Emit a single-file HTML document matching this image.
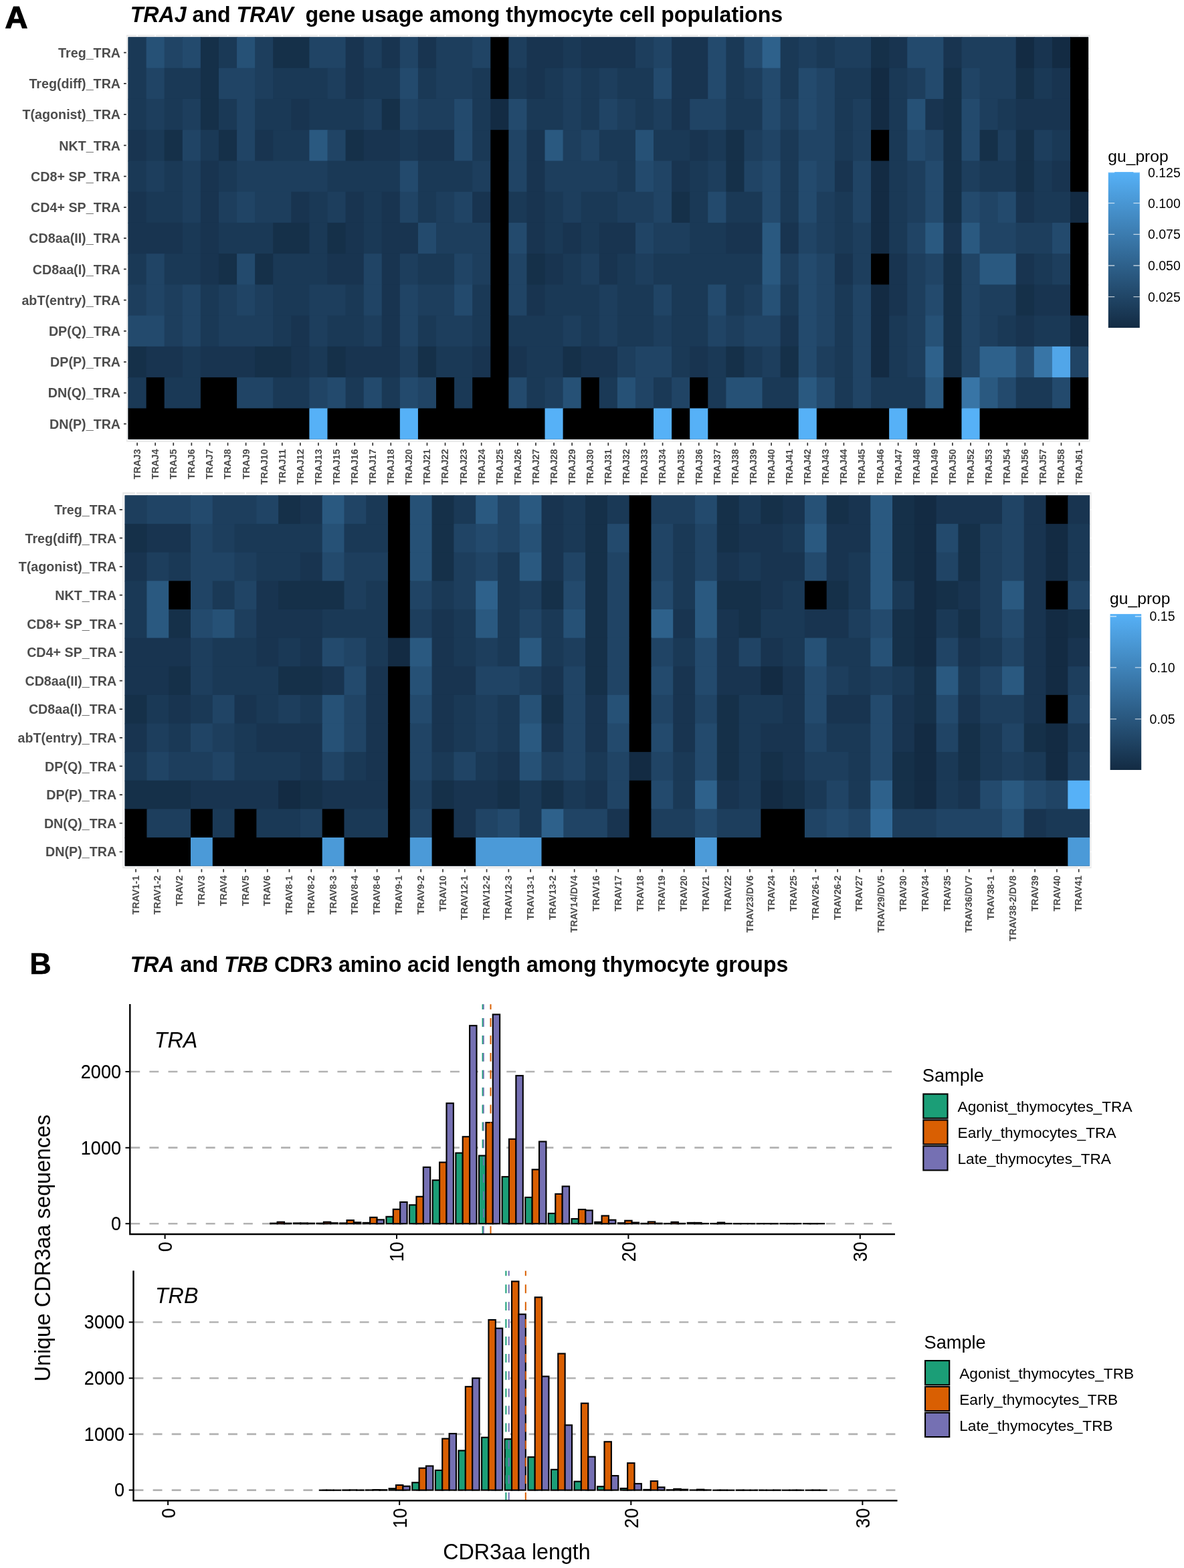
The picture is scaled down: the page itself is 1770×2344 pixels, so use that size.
<!DOCTYPE html>
<html lang="en"><head><meta charset="utf-8"><title>TRAJ and TRAV gene usage among thymocyte cell populations</title>
<style>html,body{margin:0;padding:0;background:#fff}body{width:1770px;height:2344px;overflow:hidden}svg{display:block}text{font-family:"Liberation Sans",sans-serif}.yl{font-weight:bold;font-size:19.7px;fill:#4d4d4d;text-anchor:end}.xl{font-weight:bold;font-size:15.4px;fill:#4d4d4d;text-anchor:end}.ti{font-weight:bold;font-size:32.8px;fill:#000}.lt{font-size:24.65px;fill:#000}.ll{font-size:19.5px;fill:#000}.tk{font-size:30.3px;fill:#000;stroke:#000;stroke-width:0.12px}.st{font-size:27.2px;fill:#000}.sl{font-size:22.7px;fill:#000}.ax{font-size:33.3px;fill:#000}</style></head><body>
<svg width="1770" height="2344" viewBox="0 0 1770 2344">
<rect width="1770" height="2344" fill="#ffffff"/>
<text x="7.4" y="41.7" style="font-weight:bold;font-size:47px;stroke:#000;stroke-width:1.2px">A</text>
<text class="ti" style="font-size:33.6px" transform="translate(194.75 33.3) scale(0.956 1)" xml:space="preserve"><tspan font-style="italic">TRAJ</tspan> and <tspan font-style="italic">TRAV</tspan>  gene usage among thymocyte cell populations</text>
<g>
<rect x="189" y="52.2" width="1440.6" height="608.4" fill="#e9e9e9"/>
<path d="M205.09 52.2V660.6M232.18 52.2V660.6M259.26 52.2V660.6M286.35 52.2V660.6M313.44 52.2V660.6M340.52 52.2V660.6M367.61 52.2V660.6M394.69 52.2V660.6M421.78 52.2V660.6M448.87 52.2V660.6M475.95 52.2V660.6M503.04 52.2V660.6M530.12 52.2V660.6M557.21 52.2V660.6M584.29 52.2V660.6M611.38 52.2V660.6M638.47 52.2V660.6M665.55 52.2V660.6M692.64 52.2V660.6M719.72 52.2V660.6M746.81 52.2V660.6M773.9 52.2V660.6M800.98 52.2V660.6M828.07 52.2V660.6M855.15 52.2V660.6M882.24 52.2V660.6M909.33 52.2V660.6M936.41 52.2V660.6M963.5 52.2V660.6M990.58 52.2V660.6M1017.67 52.2V660.6M1044.75 52.2V660.6M1071.84 52.2V660.6M1098.93 52.2V660.6M1126.01 52.2V660.6M1153.1 52.2V660.6M1180.18 52.2V660.6M1207.27 52.2V660.6M1234.36 52.2V660.6M1261.44 52.2V660.6M1288.53 52.2V660.6M1315.61 52.2V660.6M1342.7 52.2V660.6M1369.78 52.2V660.6M1396.87 52.2V660.6M1423.96 52.2V660.6M1451.04 52.2V660.6M1478.13 52.2V660.6M1505.21 52.2V660.6M1532.3 52.2V660.6M1559.39 52.2V660.6M1586.47 52.2V660.6M1613.56 52.2V660.6M189 78.57H1629.6M189 124.82H1629.6M189 171.07H1629.6M189 217.31H1629.6M189 263.56H1629.6M189 309.8H1629.6M189 356.05H1629.6M189 402.3H1629.6M189 448.54H1629.6M189 494.79H1629.6M189 541.03H1629.6M189 587.28H1629.6M189 633.53H1629.6" stroke="#ffffff" stroke-width="1.8" fill="none"/>
<rect x="190.4" y="54.2" width="1438" height="604.5" fill="#ffffff"/>
<rect x="191.55" y="55.45" width="1435.55" height="601.2" fill="#17324d"/>
<rect x="191.55" y="55.45" width="28.09" height="47.25" fill="#1a3956"/>
<rect x="218.64" y="55.45" width="28.09" height="47.25" fill="#265176"/>
<rect x="245.72" y="55.45" width="28.09" height="47.25" fill="#204465"/>
<rect x="272.81" y="55.45" width="28.09" height="47.25" fill="#234a6d"/>
<rect x="299.89" y="55.45" width="28.09" height="47.25" fill="#153049"/>
<rect x="326.98" y="55.45" width="28.09" height="47.25" fill="#1a3956"/>
<rect x="354.07" y="55.45" width="28.09" height="47.25" fill="#265176"/>
<rect x="381.15" y="55.45" width="28.09" height="47.25" fill="#1d3e5d"/>
<rect x="408.24" y="55.45" width="55.17" height="47.25" fill="#153049"/>
<rect x="462.41" y="55.45" width="55.17" height="47.25" fill="#204465"/>
<rect x="516.58" y="55.45" width="28.09" height="47.25" fill="#183450"/>
<rect x="543.67" y="55.45" width="28.09" height="47.25" fill="#1d3e5d"/>
<rect x="570.75" y="55.45" width="28.09" height="47.25" fill="#183450"/>
<rect x="597.84" y="55.45" width="28.09" height="47.25" fill="#204465"/>
<rect x="624.92" y="55.45" width="28.09" height="47.25" fill="#183450"/>
<rect x="652.01" y="55.45" width="55.17" height="47.25" fill="#1d3e5d"/>
<rect x="706.18" y="55.45" width="28.09" height="47.25" fill="#204465"/>
<rect x="733.27" y="55.45" width="28.09" height="47.25" fill="#000000"/>
<rect x="760.35" y="55.45" width="28.09" height="47.25" fill="#1d3e5d"/>
<rect x="787.44" y="55.45" width="55.17" height="47.25" fill="#183450"/>
<rect x="841.61" y="55.45" width="28.09" height="47.25" fill="#1a3956"/>
<rect x="868.7" y="55.45" width="82.26" height="47.25" fill="#183450"/>
<rect x="949.95" y="55.45" width="28.09" height="47.25" fill="#1d3e5d"/>
<rect x="977.04" y="55.45" width="28.09" height="47.25" fill="#204465"/>
<rect x="1004.13" y="55.45" width="55.17" height="47.25" fill="#183450"/>
<rect x="1058.3" y="55.45" width="28.09" height="47.25" fill="#234a6d"/>
<rect x="1085.38" y="55.45" width="28.09" height="47.25" fill="#1a3956"/>
<rect x="1112.47" y="55.45" width="28.09" height="47.25" fill="#234a6d"/>
<rect x="1139.55" y="55.45" width="28.09" height="47.25" fill="#2e618b"/>
<rect x="1166.64" y="55.45" width="28.09" height="47.25" fill="#1a3956"/>
<rect x="1193.73" y="55.45" width="28.09" height="47.25" fill="#1d3e5d"/>
<rect x="1220.81" y="55.45" width="28.09" height="47.25" fill="#1a3956"/>
<rect x="1247.9" y="55.45" width="55.17" height="47.25" fill="#1d3e5d"/>
<rect x="1302.07" y="55.45" width="28.09" height="47.25" fill="#153049"/>
<rect x="1329.16" y="55.45" width="28.09" height="47.25" fill="#183450"/>
<rect x="1356.24" y="55.45" width="55.17" height="47.25" fill="#234a6d"/>
<rect x="1410.41" y="55.45" width="28.09" height="47.25" fill="#183450"/>
<rect x="1437.5" y="55.45" width="82.26" height="47.25" fill="#1d3e5d"/>
<rect x="1518.76" y="55.45" width="28.09" height="47.25" fill="#132b43"/>
<rect x="1545.84" y="55.45" width="28.09" height="47.25" fill="#183450"/>
<rect x="1572.93" y="55.45" width="28.09" height="47.25" fill="#132b43"/>
<rect x="1600.01" y="55.45" width="27.09" height="47.25" fill="#000000"/>
<rect x="191.55" y="101.7" width="28.09" height="47.25" fill="#1a3956"/>
<rect x="218.64" y="101.7" width="28.09" height="47.25" fill="#204465"/>
<rect x="245.72" y="101.7" width="55.17" height="47.25" fill="#1a3956"/>
<rect x="299.89" y="101.7" width="28.09" height="47.25" fill="#153049"/>
<rect x="326.98" y="101.7" width="55.17" height="47.25" fill="#204465"/>
<rect x="381.15" y="101.7" width="28.09" height="47.25" fill="#1d3e5d"/>
<rect x="408.24" y="101.7" width="82.26" height="47.25" fill="#1a3956"/>
<rect x="489.49" y="101.7" width="28.09" height="47.25" fill="#1d3e5d"/>
<rect x="516.58" y="101.7" width="28.09" height="47.25" fill="#183450"/>
<rect x="543.67" y="101.7" width="55.17" height="47.25" fill="#1a3956"/>
<rect x="597.84" y="101.7" width="28.09" height="47.25" fill="#234a6d"/>
<rect x="624.92" y="101.7" width="28.09" height="47.25" fill="#1a3956"/>
<rect x="652.01" y="101.7" width="55.17" height="47.25" fill="#1d3e5d"/>
<rect x="706.18" y="101.7" width="28.09" height="47.25" fill="#1a3956"/>
<rect x="733.27" y="101.7" width="28.09" height="47.25" fill="#000000"/>
<rect x="760.35" y="101.7" width="28.09" height="47.25" fill="#1a3956"/>
<rect x="787.44" y="101.7" width="28.09" height="47.25" fill="#183450"/>
<rect x="814.52" y="101.7" width="28.09" height="47.25" fill="#1a3956"/>
<rect x="841.61" y="101.7" width="28.09" height="47.25" fill="#1d3e5d"/>
<rect x="868.7" y="101.7" width="28.09" height="47.25" fill="#1a3956"/>
<rect x="895.78" y="101.7" width="28.09" height="47.25" fill="#1d3e5d"/>
<rect x="922.87" y="101.7" width="55.17" height="47.25" fill="#1a3956"/>
<rect x="977.04" y="101.7" width="28.09" height="47.25" fill="#234a6d"/>
<rect x="1004.13" y="101.7" width="55.17" height="47.25" fill="#183450"/>
<rect x="1058.3" y="101.7" width="28.09" height="47.25" fill="#234a6d"/>
<rect x="1085.38" y="101.7" width="28.09" height="47.25" fill="#1a3956"/>
<rect x="1112.47" y="101.7" width="28.09" height="47.25" fill="#1d3e5d"/>
<rect x="1139.55" y="101.7" width="28.09" height="47.25" fill="#234a6d"/>
<rect x="1166.64" y="101.7" width="28.09" height="47.25" fill="#1a3956"/>
<rect x="1193.73" y="101.7" width="28.09" height="47.25" fill="#234a6d"/>
<rect x="1220.81" y="101.7" width="28.09" height="47.25" fill="#204465"/>
<rect x="1247.9" y="101.7" width="55.17" height="47.25" fill="#1a3956"/>
<rect x="1302.07" y="101.7" width="28.09" height="47.25" fill="#132b43"/>
<rect x="1329.16" y="101.7" width="28.09" height="47.25" fill="#1a3956"/>
<rect x="1356.24" y="101.7" width="28.09" height="47.25" fill="#1d3e5d"/>
<rect x="1383.33" y="101.7" width="28.09" height="47.25" fill="#234a6d"/>
<rect x="1410.41" y="101.7" width="28.09" height="47.25" fill="#153049"/>
<rect x="1437.5" y="101.7" width="28.09" height="47.25" fill="#204465"/>
<rect x="1464.58" y="101.7" width="55.17" height="47.25" fill="#1d3e5d"/>
<rect x="1518.76" y="101.7" width="28.09" height="47.25" fill="#153049"/>
<rect x="1545.84" y="101.7" width="28.09" height="47.25" fill="#1a3956"/>
<rect x="1572.93" y="101.7" width="28.09" height="47.25" fill="#183450"/>
<rect x="1600.01" y="101.7" width="27.09" height="47.25" fill="#000000"/>
<rect x="191.55" y="147.94" width="28.09" height="47.25" fill="#1a3956"/>
<rect x="218.64" y="147.94" width="28.09" height="47.25" fill="#1d3e5d"/>
<rect x="245.72" y="147.94" width="28.09" height="47.25" fill="#1a3956"/>
<rect x="272.81" y="147.94" width="28.09" height="47.25" fill="#1d3e5d"/>
<rect x="299.89" y="147.94" width="28.09" height="47.25" fill="#153049"/>
<rect x="326.98" y="147.94" width="28.09" height="47.25" fill="#1a3956"/>
<rect x="354.07" y="147.94" width="28.09" height="47.25" fill="#204465"/>
<rect x="381.15" y="147.94" width="55.17" height="47.25" fill="#1a3956"/>
<rect x="435.32" y="147.94" width="28.09" height="47.25" fill="#183450"/>
<rect x="462.41" y="147.94" width="82.26" height="47.25" fill="#1a3956"/>
<rect x="543.67" y="147.94" width="28.09" height="47.25" fill="#1d3e5d"/>
<rect x="570.75" y="147.94" width="28.09" height="47.25" fill="#153049"/>
<rect x="597.84" y="147.94" width="28.09" height="47.25" fill="#204465"/>
<rect x="624.92" y="147.94" width="55.17" height="47.25" fill="#1d3e5d"/>
<rect x="679.1" y="147.94" width="28.09" height="47.25" fill="#234a6d"/>
<rect x="706.18" y="147.94" width="28.09" height="47.25" fill="#1a3956"/>
<rect x="733.27" y="147.94" width="28.09" height="47.25" fill="#132b43"/>
<rect x="760.35" y="147.94" width="28.09" height="47.25" fill="#234a6d"/>
<rect x="787.44" y="147.94" width="55.17" height="47.25" fill="#1a3956"/>
<rect x="841.61" y="147.94" width="28.09" height="47.25" fill="#1d3e5d"/>
<rect x="868.7" y="147.94" width="28.09" height="47.25" fill="#1a3956"/>
<rect x="895.78" y="147.94" width="28.09" height="47.25" fill="#204465"/>
<rect x="922.87" y="147.94" width="28.09" height="47.25" fill="#1d3e5d"/>
<rect x="949.95" y="147.94" width="28.09" height="47.25" fill="#1a3956"/>
<rect x="977.04" y="147.94" width="28.09" height="47.25" fill="#1d3e5d"/>
<rect x="1004.13" y="147.94" width="28.09" height="47.25" fill="#183450"/>
<rect x="1031.21" y="147.94" width="55.17" height="47.25" fill="#204465"/>
<rect x="1085.38" y="147.94" width="55.17" height="47.25" fill="#1a3956"/>
<rect x="1139.55" y="147.94" width="28.09" height="47.25" fill="#234a6d"/>
<rect x="1166.64" y="147.94" width="28.09" height="47.25" fill="#1d3e5d"/>
<rect x="1193.73" y="147.94" width="28.09" height="47.25" fill="#234a6d"/>
<rect x="1220.81" y="147.94" width="28.09" height="47.25" fill="#204465"/>
<rect x="1247.9" y="147.94" width="28.09" height="47.25" fill="#1a3956"/>
<rect x="1274.98" y="147.94" width="28.09" height="47.25" fill="#1d3e5d"/>
<rect x="1302.07" y="147.94" width="28.09" height="47.25" fill="#132b43"/>
<rect x="1329.16" y="147.94" width="28.09" height="47.25" fill="#1a3956"/>
<rect x="1356.24" y="147.94" width="28.09" height="47.25" fill="#265176"/>
<rect x="1383.33" y="147.94" width="28.09" height="47.25" fill="#183450"/>
<rect x="1410.41" y="147.94" width="28.09" height="47.25" fill="#153049"/>
<rect x="1437.5" y="147.94" width="28.09" height="47.25" fill="#234a6d"/>
<rect x="1464.58" y="147.94" width="28.09" height="47.25" fill="#1d3e5d"/>
<rect x="1491.67" y="147.94" width="28.09" height="47.25" fill="#1a3956"/>
<rect x="1518.76" y="147.94" width="82.26" height="47.25" fill="#183450"/>
<rect x="1600.01" y="147.94" width="27.09" height="47.25" fill="#000000"/>
<rect x="191.55" y="194.19" width="28.09" height="47.25" fill="#183450"/>
<rect x="218.64" y="194.19" width="28.09" height="47.25" fill="#1a3956"/>
<rect x="245.72" y="194.19" width="28.09" height="47.25" fill="#153049"/>
<rect x="272.81" y="194.19" width="28.09" height="47.25" fill="#204465"/>
<rect x="299.89" y="194.19" width="28.09" height="47.25" fill="#1a3956"/>
<rect x="326.98" y="194.19" width="28.09" height="47.25" fill="#153049"/>
<rect x="354.07" y="194.19" width="28.09" height="47.25" fill="#204465"/>
<rect x="381.15" y="194.19" width="28.09" height="47.25" fill="#183450"/>
<rect x="408.24" y="194.19" width="55.17" height="47.25" fill="#1a3956"/>
<rect x="462.41" y="194.19" width="28.09" height="47.25" fill="#2a5980"/>
<rect x="489.49" y="194.19" width="28.09" height="47.25" fill="#204465"/>
<rect x="516.58" y="194.19" width="28.09" height="47.25" fill="#153049"/>
<rect x="543.67" y="194.19" width="55.17" height="47.25" fill="#183450"/>
<rect x="597.84" y="194.19" width="28.09" height="47.25" fill="#1a3956"/>
<rect x="624.92" y="194.19" width="55.17" height="47.25" fill="#183450"/>
<rect x="679.1" y="194.19" width="28.09" height="47.25" fill="#234a6d"/>
<rect x="706.18" y="194.19" width="28.09" height="47.25" fill="#1a3956"/>
<rect x="733.27" y="194.19" width="28.09" height="47.25" fill="#000000"/>
<rect x="760.35" y="194.19" width="28.09" height="47.25" fill="#204465"/>
<rect x="787.44" y="194.19" width="28.09" height="47.25" fill="#183450"/>
<rect x="814.52" y="194.19" width="28.09" height="47.25" fill="#2a5980"/>
<rect x="841.61" y="194.19" width="28.09" height="47.25" fill="#1d3e5d"/>
<rect x="868.7" y="194.19" width="28.09" height="47.25" fill="#204465"/>
<rect x="895.78" y="194.19" width="55.17" height="47.25" fill="#1a3956"/>
<rect x="949.95" y="194.19" width="28.09" height="47.25" fill="#265176"/>
<rect x="977.04" y="194.19" width="55.17" height="47.25" fill="#1a3956"/>
<rect x="1031.21" y="194.19" width="28.09" height="47.25" fill="#183450"/>
<rect x="1058.3" y="194.19" width="28.09" height="47.25" fill="#1a3956"/>
<rect x="1085.38" y="194.19" width="28.09" height="47.25" fill="#153049"/>
<rect x="1112.47" y="194.19" width="28.09" height="47.25" fill="#1d3e5d"/>
<rect x="1139.55" y="194.19" width="28.09" height="47.25" fill="#204465"/>
<rect x="1166.64" y="194.19" width="28.09" height="47.25" fill="#1a3956"/>
<rect x="1193.73" y="194.19" width="55.17" height="47.25" fill="#204465"/>
<rect x="1247.9" y="194.19" width="28.09" height="47.25" fill="#1a3956"/>
<rect x="1274.98" y="194.19" width="28.09" height="47.25" fill="#1d3e5d"/>
<rect x="1302.07" y="194.19" width="28.09" height="47.25" fill="#000000"/>
<rect x="1329.16" y="194.19" width="28.09" height="47.25" fill="#1a3956"/>
<rect x="1356.24" y="194.19" width="28.09" height="47.25" fill="#234a6d"/>
<rect x="1383.33" y="194.19" width="28.09" height="47.25" fill="#204465"/>
<rect x="1410.41" y="194.19" width="28.09" height="47.25" fill="#153049"/>
<rect x="1437.5" y="194.19" width="28.09" height="47.25" fill="#234a6d"/>
<rect x="1464.58" y="194.19" width="28.09" height="47.25" fill="#153049"/>
<rect x="1491.67" y="194.19" width="28.09" height="47.25" fill="#1d3e5d"/>
<rect x="1518.76" y="194.19" width="28.09" height="47.25" fill="#153049"/>
<rect x="1545.84" y="194.19" width="28.09" height="47.25" fill="#1d3e5d"/>
<rect x="1572.93" y="194.19" width="28.09" height="47.25" fill="#1a3956"/>
<rect x="1600.01" y="194.19" width="27.09" height="47.25" fill="#000000"/>
<rect x="191.55" y="240.43" width="28.09" height="47.25" fill="#1a3956"/>
<rect x="218.64" y="240.43" width="28.09" height="47.25" fill="#1d3e5d"/>
<rect x="245.72" y="240.43" width="28.09" height="47.25" fill="#1a3956"/>
<rect x="272.81" y="240.43" width="28.09" height="47.25" fill="#1d3e5d"/>
<rect x="299.89" y="240.43" width="28.09" height="47.25" fill="#183450"/>
<rect x="326.98" y="240.43" width="28.09" height="47.25" fill="#1a3956"/>
<rect x="354.07" y="240.43" width="136.43" height="47.25" fill="#1d3e5d"/>
<rect x="489.49" y="240.43" width="109.34" height="47.25" fill="#1a3956"/>
<rect x="597.84" y="240.43" width="28.09" height="47.25" fill="#234a6d"/>
<rect x="624.92" y="240.43" width="82.26" height="47.25" fill="#1a3956"/>
<rect x="706.18" y="240.43" width="28.09" height="47.25" fill="#1d3e5d"/>
<rect x="733.27" y="240.43" width="28.09" height="47.25" fill="#000000"/>
<rect x="760.35" y="240.43" width="28.09" height="47.25" fill="#204465"/>
<rect x="787.44" y="240.43" width="28.09" height="47.25" fill="#183450"/>
<rect x="814.52" y="240.43" width="109.34" height="47.25" fill="#1d3e5d"/>
<rect x="922.87" y="240.43" width="28.09" height="47.25" fill="#1a3956"/>
<rect x="949.95" y="240.43" width="28.09" height="47.25" fill="#234a6d"/>
<rect x="977.04" y="240.43" width="28.09" height="47.25" fill="#204465"/>
<rect x="1004.13" y="240.43" width="28.09" height="47.25" fill="#183450"/>
<rect x="1031.21" y="240.43" width="28.09" height="47.25" fill="#1a3956"/>
<rect x="1058.3" y="240.43" width="28.09" height="47.25" fill="#1d3e5d"/>
<rect x="1085.38" y="240.43" width="28.09" height="47.25" fill="#153049"/>
<rect x="1112.47" y="240.43" width="28.09" height="47.25" fill="#204465"/>
<rect x="1139.55" y="240.43" width="28.09" height="47.25" fill="#234a6d"/>
<rect x="1166.64" y="240.43" width="28.09" height="47.25" fill="#1a3956"/>
<rect x="1193.73" y="240.43" width="28.09" height="47.25" fill="#234a6d"/>
<rect x="1220.81" y="240.43" width="28.09" height="47.25" fill="#204465"/>
<rect x="1247.9" y="240.43" width="28.09" height="47.25" fill="#183450"/>
<rect x="1274.98" y="240.43" width="28.09" height="47.25" fill="#204465"/>
<rect x="1302.07" y="240.43" width="28.09" height="47.25" fill="#132b43"/>
<rect x="1329.16" y="240.43" width="28.09" height="47.25" fill="#1a3956"/>
<rect x="1356.24" y="240.43" width="28.09" height="47.25" fill="#1d3e5d"/>
<rect x="1383.33" y="240.43" width="28.09" height="47.25" fill="#234a6d"/>
<rect x="1410.41" y="240.43" width="28.09" height="47.25" fill="#153049"/>
<rect x="1437.5" y="240.43" width="28.09" height="47.25" fill="#1d3e5d"/>
<rect x="1464.58" y="240.43" width="55.17" height="47.25" fill="#1a3956"/>
<rect x="1518.76" y="240.43" width="28.09" height="47.25" fill="#153049"/>
<rect x="1545.84" y="240.43" width="28.09" height="47.25" fill="#1a3956"/>
<rect x="1572.93" y="240.43" width="28.09" height="47.25" fill="#183450"/>
<rect x="1600.01" y="240.43" width="27.09" height="47.25" fill="#000000"/>
<rect x="191.55" y="286.68" width="28.09" height="47.25" fill="#183450"/>
<rect x="218.64" y="286.68" width="55.17" height="47.25" fill="#1a3956"/>
<rect x="272.81" y="286.68" width="28.09" height="47.25" fill="#1d3e5d"/>
<rect x="299.89" y="286.68" width="28.09" height="47.25" fill="#183450"/>
<rect x="326.98" y="286.68" width="28.09" height="47.25" fill="#1d3e5d"/>
<rect x="354.07" y="286.68" width="28.09" height="47.25" fill="#204465"/>
<rect x="381.15" y="286.68" width="55.17" height="47.25" fill="#1d3e5d"/>
<rect x="435.32" y="286.68" width="28.09" height="47.25" fill="#183450"/>
<rect x="462.41" y="286.68" width="28.09" height="47.25" fill="#1a3956"/>
<rect x="489.49" y="286.68" width="28.09" height="47.25" fill="#1d3e5d"/>
<rect x="516.58" y="286.68" width="28.09" height="47.25" fill="#183450"/>
<rect x="543.67" y="286.68" width="28.09" height="47.25" fill="#1a3956"/>
<rect x="570.75" y="286.68" width="28.09" height="47.25" fill="#183450"/>
<rect x="597.84" y="286.68" width="28.09" height="47.25" fill="#204465"/>
<rect x="624.92" y="286.68" width="28.09" height="47.25" fill="#1a3956"/>
<rect x="652.01" y="286.68" width="28.09" height="47.25" fill="#1d3e5d"/>
<rect x="679.1" y="286.68" width="28.09" height="47.25" fill="#204465"/>
<rect x="706.18" y="286.68" width="28.09" height="47.25" fill="#183450"/>
<rect x="733.27" y="286.68" width="28.09" height="47.25" fill="#000000"/>
<rect x="760.35" y="286.68" width="28.09" height="47.25" fill="#1a3956"/>
<rect x="787.44" y="286.68" width="28.09" height="47.25" fill="#183450"/>
<rect x="814.52" y="286.68" width="28.09" height="47.25" fill="#1a3956"/>
<rect x="841.61" y="286.68" width="28.09" height="47.25" fill="#1d3e5d"/>
<rect x="868.7" y="286.68" width="55.17" height="47.25" fill="#1a3956"/>
<rect x="922.87" y="286.68" width="55.17" height="47.25" fill="#1d3e5d"/>
<rect x="977.04" y="286.68" width="28.09" height="47.25" fill="#204465"/>
<rect x="1004.13" y="286.68" width="28.09" height="47.25" fill="#153049"/>
<rect x="1031.21" y="286.68" width="28.09" height="47.25" fill="#1a3956"/>
<rect x="1058.3" y="286.68" width="28.09" height="47.25" fill="#234a6d"/>
<rect x="1085.38" y="286.68" width="55.17" height="47.25" fill="#1a3956"/>
<rect x="1139.55" y="286.68" width="28.09" height="47.25" fill="#234a6d"/>
<rect x="1166.64" y="286.68" width="28.09" height="47.25" fill="#1a3956"/>
<rect x="1193.73" y="286.68" width="28.09" height="47.25" fill="#234a6d"/>
<rect x="1220.81" y="286.68" width="28.09" height="47.25" fill="#1d3e5d"/>
<rect x="1247.9" y="286.68" width="28.09" height="47.25" fill="#1a3956"/>
<rect x="1274.98" y="286.68" width="28.09" height="47.25" fill="#204465"/>
<rect x="1302.07" y="286.68" width="28.09" height="47.25" fill="#132b43"/>
<rect x="1329.16" y="286.68" width="28.09" height="47.25" fill="#1a3956"/>
<rect x="1356.24" y="286.68" width="28.09" height="47.25" fill="#1d3e5d"/>
<rect x="1383.33" y="286.68" width="28.09" height="47.25" fill="#234a6d"/>
<rect x="1410.41" y="286.68" width="28.09" height="47.25" fill="#153049"/>
<rect x="1437.5" y="286.68" width="28.09" height="47.25" fill="#234a6d"/>
<rect x="1464.58" y="286.68" width="28.09" height="47.25" fill="#204465"/>
<rect x="1491.67" y="286.68" width="28.09" height="47.25" fill="#234a6d"/>
<rect x="1518.76" y="286.68" width="28.09" height="47.25" fill="#183450"/>
<rect x="1545.84" y="286.68" width="55.17" height="47.25" fill="#1a3956"/>
<rect x="1600.01" y="286.68" width="27.09" height="47.25" fill="#132b43"/>
<rect x="191.55" y="332.93" width="82.26" height="47.25" fill="#183450"/>
<rect x="272.81" y="332.93" width="28.09" height="47.25" fill="#1a3956"/>
<rect x="299.89" y="332.93" width="28.09" height="47.25" fill="#183450"/>
<rect x="326.98" y="332.93" width="82.26" height="47.25" fill="#1a3956"/>
<rect x="408.24" y="332.93" width="55.17" height="47.25" fill="#153049"/>
<rect x="462.41" y="332.93" width="28.09" height="47.25" fill="#1a3956"/>
<rect x="489.49" y="332.93" width="28.09" height="47.25" fill="#153049"/>
<rect x="516.58" y="332.93" width="28.09" height="47.25" fill="#183450"/>
<rect x="543.67" y="332.93" width="28.09" height="47.25" fill="#1a3956"/>
<rect x="570.75" y="332.93" width="55.17" height="47.25" fill="#183450"/>
<rect x="624.92" y="332.93" width="28.09" height="47.25" fill="#234a6d"/>
<rect x="652.01" y="332.93" width="82.26" height="47.25" fill="#1d3e5d"/>
<rect x="733.27" y="332.93" width="28.09" height="47.25" fill="#000000"/>
<rect x="760.35" y="332.93" width="28.09" height="47.25" fill="#234a6d"/>
<rect x="787.44" y="332.93" width="28.09" height="47.25" fill="#183450"/>
<rect x="814.52" y="332.93" width="28.09" height="47.25" fill="#1a3956"/>
<rect x="841.61" y="332.93" width="28.09" height="47.25" fill="#183450"/>
<rect x="868.7" y="332.93" width="28.09" height="47.25" fill="#1a3956"/>
<rect x="895.78" y="332.93" width="55.17" height="47.25" fill="#183450"/>
<rect x="949.95" y="332.93" width="28.09" height="47.25" fill="#204465"/>
<rect x="977.04" y="332.93" width="55.17" height="47.25" fill="#1d3e5d"/>
<rect x="1031.21" y="332.93" width="55.17" height="47.25" fill="#1a3956"/>
<rect x="1085.38" y="332.93" width="55.17" height="47.25" fill="#183450"/>
<rect x="1139.55" y="332.93" width="28.09" height="47.25" fill="#2a5980"/>
<rect x="1166.64" y="332.93" width="28.09" height="47.25" fill="#183450"/>
<rect x="1193.73" y="332.93" width="28.09" height="47.25" fill="#204465"/>
<rect x="1220.81" y="332.93" width="28.09" height="47.25" fill="#1d3e5d"/>
<rect x="1247.9" y="332.93" width="28.09" height="47.25" fill="#1a3956"/>
<rect x="1274.98" y="332.93" width="28.09" height="47.25" fill="#1d3e5d"/>
<rect x="1302.07" y="332.93" width="28.09" height="47.25" fill="#132b43"/>
<rect x="1329.16" y="332.93" width="28.09" height="47.25" fill="#1a3956"/>
<rect x="1356.24" y="332.93" width="28.09" height="47.25" fill="#204465"/>
<rect x="1383.33" y="332.93" width="28.09" height="47.25" fill="#2a5980"/>
<rect x="1410.41" y="332.93" width="28.09" height="47.25" fill="#183450"/>
<rect x="1437.5" y="332.93" width="28.09" height="47.25" fill="#2a5980"/>
<rect x="1464.58" y="332.93" width="55.17" height="47.25" fill="#204465"/>
<rect x="1518.76" y="332.93" width="55.17" height="47.25" fill="#1d3e5d"/>
<rect x="1572.93" y="332.93" width="28.09" height="47.25" fill="#234a6d"/>
<rect x="1600.01" y="332.93" width="27.09" height="47.25" fill="#000000"/>
<rect x="191.55" y="379.17" width="28.09" height="47.25" fill="#1a3956"/>
<rect x="218.64" y="379.17" width="28.09" height="47.25" fill="#204465"/>
<rect x="245.72" y="379.17" width="55.17" height="47.25" fill="#1a3956"/>
<rect x="299.89" y="379.17" width="28.09" height="47.25" fill="#183450"/>
<rect x="326.98" y="379.17" width="28.09" height="47.25" fill="#153049"/>
<rect x="354.07" y="379.17" width="28.09" height="47.25" fill="#234a6d"/>
<rect x="381.15" y="379.17" width="28.09" height="47.25" fill="#153049"/>
<rect x="408.24" y="379.17" width="82.26" height="47.25" fill="#1a3956"/>
<rect x="489.49" y="379.17" width="55.17" height="47.25" fill="#183450"/>
<rect x="543.67" y="379.17" width="28.09" height="47.25" fill="#204465"/>
<rect x="570.75" y="379.17" width="28.09" height="47.25" fill="#183450"/>
<rect x="597.84" y="379.17" width="28.09" height="47.25" fill="#1d3e5d"/>
<rect x="624.92" y="379.17" width="55.17" height="47.25" fill="#1a3956"/>
<rect x="679.1" y="379.17" width="28.09" height="47.25" fill="#204465"/>
<rect x="706.18" y="379.17" width="28.09" height="47.25" fill="#1d3e5d"/>
<rect x="733.27" y="379.17" width="28.09" height="47.25" fill="#000000"/>
<rect x="760.35" y="379.17" width="28.09" height="47.25" fill="#204465"/>
<rect x="787.44" y="379.17" width="28.09" height="47.25" fill="#153049"/>
<rect x="814.52" y="379.17" width="28.09" height="47.25" fill="#183450"/>
<rect x="841.61" y="379.17" width="28.09" height="47.25" fill="#1a3956"/>
<rect x="868.7" y="379.17" width="28.09" height="47.25" fill="#1d3e5d"/>
<rect x="895.78" y="379.17" width="28.09" height="47.25" fill="#183450"/>
<rect x="922.87" y="379.17" width="28.09" height="47.25" fill="#1a3956"/>
<rect x="949.95" y="379.17" width="28.09" height="47.25" fill="#1d3e5d"/>
<rect x="977.04" y="379.17" width="163.52" height="47.25" fill="#1a3956"/>
<rect x="1139.55" y="379.17" width="28.09" height="47.25" fill="#2a5980"/>
<rect x="1166.64" y="379.17" width="28.09" height="47.25" fill="#1d3e5d"/>
<rect x="1193.73" y="379.17" width="28.09" height="47.25" fill="#234a6d"/>
<rect x="1220.81" y="379.17" width="28.09" height="47.25" fill="#204465"/>
<rect x="1247.9" y="379.17" width="28.09" height="47.25" fill="#183450"/>
<rect x="1274.98" y="379.17" width="28.09" height="47.25" fill="#1d3e5d"/>
<rect x="1302.07" y="379.17" width="28.09" height="47.25" fill="#000000"/>
<rect x="1329.16" y="379.17" width="28.09" height="47.25" fill="#183450"/>
<rect x="1356.24" y="379.17" width="28.09" height="47.25" fill="#1d3e5d"/>
<rect x="1383.33" y="379.17" width="28.09" height="47.25" fill="#204465"/>
<rect x="1410.41" y="379.17" width="28.09" height="47.25" fill="#153049"/>
<rect x="1437.5" y="379.17" width="28.09" height="47.25" fill="#204465"/>
<rect x="1464.58" y="379.17" width="55.17" height="47.25" fill="#2a5980"/>
<rect x="1518.76" y="379.17" width="28.09" height="47.25" fill="#183450"/>
<rect x="1545.84" y="379.17" width="28.09" height="47.25" fill="#1a3956"/>
<rect x="1572.93" y="379.17" width="28.09" height="47.25" fill="#1d3e5d"/>
<rect x="1600.01" y="379.17" width="27.09" height="47.25" fill="#000000"/>
<rect x="191.55" y="425.42" width="28.09" height="47.25" fill="#1d3e5d"/>
<rect x="218.64" y="425.42" width="28.09" height="47.25" fill="#204465"/>
<rect x="245.72" y="425.42" width="28.09" height="47.25" fill="#1d3e5d"/>
<rect x="272.81" y="425.42" width="28.09" height="47.25" fill="#204465"/>
<rect x="299.89" y="425.42" width="28.09" height="47.25" fill="#1a3956"/>
<rect x="326.98" y="425.42" width="28.09" height="47.25" fill="#1d3e5d"/>
<rect x="354.07" y="425.42" width="28.09" height="47.25" fill="#204465"/>
<rect x="381.15" y="425.42" width="28.09" height="47.25" fill="#1d3e5d"/>
<rect x="408.24" y="425.42" width="55.17" height="47.25" fill="#1a3956"/>
<rect x="462.41" y="425.42" width="55.17" height="47.25" fill="#1d3e5d"/>
<rect x="516.58" y="425.42" width="28.09" height="47.25" fill="#1a3956"/>
<rect x="543.67" y="425.42" width="28.09" height="47.25" fill="#204465"/>
<rect x="570.75" y="425.42" width="28.09" height="47.25" fill="#183450"/>
<rect x="597.84" y="425.42" width="28.09" height="47.25" fill="#204465"/>
<rect x="624.92" y="425.42" width="55.17" height="47.25" fill="#1d3e5d"/>
<rect x="679.1" y="425.42" width="28.09" height="47.25" fill="#234a6d"/>
<rect x="706.18" y="425.42" width="28.09" height="47.25" fill="#1a3956"/>
<rect x="733.27" y="425.42" width="28.09" height="47.25" fill="#000000"/>
<rect x="760.35" y="425.42" width="28.09" height="47.25" fill="#204465"/>
<rect x="787.44" y="425.42" width="28.09" height="47.25" fill="#183450"/>
<rect x="814.52" y="425.42" width="82.26" height="47.25" fill="#1a3956"/>
<rect x="895.78" y="425.42" width="28.09" height="47.25" fill="#1d3e5d"/>
<rect x="922.87" y="425.42" width="55.17" height="47.25" fill="#1a3956"/>
<rect x="977.04" y="425.42" width="28.09" height="47.25" fill="#204465"/>
<rect x="1004.13" y="425.42" width="55.17" height="47.25" fill="#1a3956"/>
<rect x="1058.3" y="425.42" width="28.09" height="47.25" fill="#234a6d"/>
<rect x="1085.38" y="425.42" width="28.09" height="47.25" fill="#1a3956"/>
<rect x="1112.47" y="425.42" width="28.09" height="47.25" fill="#1d3e5d"/>
<rect x="1139.55" y="425.42" width="28.09" height="47.25" fill="#265176"/>
<rect x="1166.64" y="425.42" width="28.09" height="47.25" fill="#1a3956"/>
<rect x="1193.73" y="425.42" width="28.09" height="47.25" fill="#234a6d"/>
<rect x="1220.81" y="425.42" width="28.09" height="47.25" fill="#204465"/>
<rect x="1247.9" y="425.42" width="28.09" height="47.25" fill="#1a3956"/>
<rect x="1274.98" y="425.42" width="28.09" height="47.25" fill="#204465"/>
<rect x="1302.07" y="425.42" width="28.09" height="47.25" fill="#132b43"/>
<rect x="1329.16" y="425.42" width="28.09" height="47.25" fill="#183450"/>
<rect x="1356.24" y="425.42" width="28.09" height="47.25" fill="#1d3e5d"/>
<rect x="1383.33" y="425.42" width="28.09" height="47.25" fill="#234a6d"/>
<rect x="1410.41" y="425.42" width="28.09" height="47.25" fill="#153049"/>
<rect x="1437.5" y="425.42" width="28.09" height="47.25" fill="#204465"/>
<rect x="1464.58" y="425.42" width="55.17" height="47.25" fill="#1d3e5d"/>
<rect x="1518.76" y="425.42" width="28.09" height="47.25" fill="#153049"/>
<rect x="1545.84" y="425.42" width="55.17" height="47.25" fill="#183450"/>
<rect x="1600.01" y="425.42" width="27.09" height="47.25" fill="#000000"/>
<rect x="191.55" y="471.67" width="55.17" height="47.25" fill="#234a6d"/>
<rect x="245.72" y="471.67" width="28.09" height="47.25" fill="#1d3e5d"/>
<rect x="272.81" y="471.67" width="28.09" height="47.25" fill="#204465"/>
<rect x="299.89" y="471.67" width="28.09" height="47.25" fill="#1a3956"/>
<rect x="326.98" y="471.67" width="82.26" height="47.25" fill="#1d3e5d"/>
<rect x="408.24" y="471.67" width="28.09" height="47.25" fill="#1a3956"/>
<rect x="435.32" y="471.67" width="28.09" height="47.25" fill="#183450"/>
<rect x="462.41" y="471.67" width="28.09" height="47.25" fill="#1d3e5d"/>
<rect x="489.49" y="471.67" width="55.17" height="47.25" fill="#1a3956"/>
<rect x="543.67" y="471.67" width="28.09" height="47.25" fill="#1d3e5d"/>
<rect x="570.75" y="471.67" width="28.09" height="47.25" fill="#183450"/>
<rect x="597.84" y="471.67" width="28.09" height="47.25" fill="#204465"/>
<rect x="624.92" y="471.67" width="28.09" height="47.25" fill="#1a3956"/>
<rect x="652.01" y="471.67" width="55.17" height="47.25" fill="#1d3e5d"/>
<rect x="706.18" y="471.67" width="28.09" height="47.25" fill="#1a3956"/>
<rect x="733.27" y="471.67" width="28.09" height="47.25" fill="#000000"/>
<rect x="760.35" y="471.67" width="82.26" height="47.25" fill="#1a3956"/>
<rect x="841.61" y="471.67" width="28.09" height="47.25" fill="#1d3e5d"/>
<rect x="868.7" y="471.67" width="28.09" height="47.25" fill="#1a3956"/>
<rect x="895.78" y="471.67" width="28.09" height="47.25" fill="#1d3e5d"/>
<rect x="922.87" y="471.67" width="55.17" height="47.25" fill="#1a3956"/>
<rect x="977.04" y="471.67" width="28.09" height="47.25" fill="#1d3e5d"/>
<rect x="1004.13" y="471.67" width="55.17" height="47.25" fill="#1a3956"/>
<rect x="1058.3" y="471.67" width="28.09" height="47.25" fill="#204465"/>
<rect x="1085.38" y="471.67" width="28.09" height="47.25" fill="#1d3e5d"/>
<rect x="1112.47" y="471.67" width="55.17" height="47.25" fill="#204465"/>
<rect x="1166.64" y="471.67" width="28.09" height="47.25" fill="#183450"/>
<rect x="1193.73" y="471.67" width="28.09" height="47.25" fill="#234a6d"/>
<rect x="1220.81" y="471.67" width="28.09" height="47.25" fill="#204465"/>
<rect x="1247.9" y="471.67" width="28.09" height="47.25" fill="#1a3956"/>
<rect x="1274.98" y="471.67" width="28.09" height="47.25" fill="#204465"/>
<rect x="1302.07" y="471.67" width="28.09" height="47.25" fill="#132b43"/>
<rect x="1329.16" y="471.67" width="28.09" height="47.25" fill="#1a3956"/>
<rect x="1356.24" y="471.67" width="28.09" height="47.25" fill="#1d3e5d"/>
<rect x="1383.33" y="471.67" width="28.09" height="47.25" fill="#265176"/>
<rect x="1410.41" y="471.67" width="28.09" height="47.25" fill="#153049"/>
<rect x="1437.5" y="471.67" width="28.09" height="47.25" fill="#204465"/>
<rect x="1464.58" y="471.67" width="28.09" height="47.25" fill="#1d3e5d"/>
<rect x="1491.67" y="471.67" width="28.09" height="47.25" fill="#1a3956"/>
<rect x="1518.76" y="471.67" width="28.09" height="47.25" fill="#183450"/>
<rect x="1545.84" y="471.67" width="55.17" height="47.25" fill="#1a3956"/>
<rect x="1600.01" y="471.67" width="27.09" height="47.25" fill="#132b43"/>
<rect x="191.55" y="517.91" width="28.09" height="47.25" fill="#153049"/>
<rect x="218.64" y="517.91" width="55.17" height="47.25" fill="#183450"/>
<rect x="272.81" y="517.91" width="28.09" height="47.25" fill="#1a3956"/>
<rect x="299.89" y="517.91" width="82.26" height="47.25" fill="#183450"/>
<rect x="381.15" y="517.91" width="55.17" height="47.25" fill="#153049"/>
<rect x="435.32" y="517.91" width="28.09" height="47.25" fill="#183450"/>
<rect x="462.41" y="517.91" width="28.09" height="47.25" fill="#1a3956"/>
<rect x="489.49" y="517.91" width="28.09" height="47.25" fill="#153049"/>
<rect x="516.58" y="517.91" width="82.26" height="47.25" fill="#183450"/>
<rect x="597.84" y="517.91" width="28.09" height="47.25" fill="#1d3e5d"/>
<rect x="624.92" y="517.91" width="28.09" height="47.25" fill="#153049"/>
<rect x="652.01" y="517.91" width="55.17" height="47.25" fill="#1a3956"/>
<rect x="706.18" y="517.91" width="28.09" height="47.25" fill="#183450"/>
<rect x="733.27" y="517.91" width="28.09" height="47.25" fill="#000000"/>
<rect x="760.35" y="517.91" width="28.09" height="47.25" fill="#183450"/>
<rect x="787.44" y="517.91" width="55.17" height="47.25" fill="#1a3956"/>
<rect x="841.61" y="517.91" width="28.09" height="47.25" fill="#153049"/>
<rect x="868.7" y="517.91" width="55.17" height="47.25" fill="#183450"/>
<rect x="922.87" y="517.91" width="28.09" height="47.25" fill="#1d3e5d"/>
<rect x="949.95" y="517.91" width="55.17" height="47.25" fill="#204465"/>
<rect x="1004.13" y="517.91" width="28.09" height="47.25" fill="#1a3956"/>
<rect x="1031.21" y="517.91" width="28.09" height="47.25" fill="#183450"/>
<rect x="1058.3" y="517.91" width="28.09" height="47.25" fill="#1a3956"/>
<rect x="1085.38" y="517.91" width="28.09" height="47.25" fill="#153049"/>
<rect x="1112.47" y="517.91" width="28.09" height="47.25" fill="#1a3956"/>
<rect x="1139.55" y="517.91" width="28.09" height="47.25" fill="#1d3e5d"/>
<rect x="1166.64" y="517.91" width="28.09" height="47.25" fill="#153049"/>
<rect x="1193.73" y="517.91" width="28.09" height="47.25" fill="#234a6d"/>
<rect x="1220.81" y="517.91" width="28.09" height="47.25" fill="#1d3e5d"/>
<rect x="1247.9" y="517.91" width="28.09" height="47.25" fill="#1a3956"/>
<rect x="1274.98" y="517.91" width="28.09" height="47.25" fill="#204465"/>
<rect x="1302.07" y="517.91" width="28.09" height="47.25" fill="#132b43"/>
<rect x="1329.16" y="517.91" width="28.09" height="47.25" fill="#1a3956"/>
<rect x="1356.24" y="517.91" width="28.09" height="47.25" fill="#1d3e5d"/>
<rect x="1383.33" y="517.91" width="28.09" height="47.25" fill="#2e618b"/>
<rect x="1410.41" y="517.91" width="28.09" height="47.25" fill="#153049"/>
<rect x="1437.5" y="517.91" width="28.09" height="47.25" fill="#204465"/>
<rect x="1464.58" y="517.91" width="55.17" height="47.25" fill="#2e618b"/>
<rect x="1518.76" y="517.91" width="28.09" height="47.25" fill="#234a6d"/>
<rect x="1545.84" y="517.91" width="28.09" height="47.25" fill="#3875a6"/>
<rect x="1572.93" y="517.91" width="28.09" height="47.25" fill="#51a6e9"/>
<rect x="1600.01" y="517.91" width="27.09" height="47.25" fill="#204465"/>
<rect x="191.55" y="564.16" width="28.09" height="47.25" fill="#1a3956"/>
<rect x="218.64" y="564.16" width="28.09" height="47.25" fill="#000000"/>
<rect x="245.72" y="564.16" width="55.17" height="47.25" fill="#1a3956"/>
<rect x="299.89" y="564.16" width="55.17" height="47.25" fill="#000000"/>
<rect x="354.07" y="564.16" width="55.17" height="47.25" fill="#204465"/>
<rect x="408.24" y="564.16" width="55.17" height="47.25" fill="#1a3956"/>
<rect x="462.41" y="564.16" width="28.09" height="47.25" fill="#204465"/>
<rect x="489.49" y="564.16" width="28.09" height="47.25" fill="#234a6d"/>
<rect x="516.58" y="564.16" width="28.09" height="47.25" fill="#1a3956"/>
<rect x="543.67" y="564.16" width="28.09" height="47.25" fill="#234a6d"/>
<rect x="570.75" y="564.16" width="28.09" height="47.25" fill="#1a3956"/>
<rect x="597.84" y="564.16" width="28.09" height="47.25" fill="#234a6d"/>
<rect x="624.92" y="564.16" width="28.09" height="47.25" fill="#204465"/>
<rect x="652.01" y="564.16" width="28.09" height="47.25" fill="#000000"/>
<rect x="679.1" y="564.16" width="28.09" height="47.25" fill="#1a3956"/>
<rect x="706.18" y="564.16" width="55.17" height="47.25" fill="#000000"/>
<rect x="760.35" y="564.16" width="28.09" height="47.25" fill="#234a6d"/>
<rect x="787.44" y="564.16" width="28.09" height="47.25" fill="#1a3956"/>
<rect x="814.52" y="564.16" width="28.09" height="47.25" fill="#1d3e5d"/>
<rect x="841.61" y="564.16" width="28.09" height="47.25" fill="#265176"/>
<rect x="868.7" y="564.16" width="28.09" height="47.25" fill="#000000"/>
<rect x="895.78" y="564.16" width="28.09" height="47.25" fill="#1a3956"/>
<rect x="922.87" y="564.16" width="28.09" height="47.25" fill="#265176"/>
<rect x="949.95" y="564.16" width="28.09" height="47.25" fill="#204465"/>
<rect x="977.04" y="564.16" width="28.09" height="47.25" fill="#1a3956"/>
<rect x="1004.13" y="564.16" width="28.09" height="47.25" fill="#204465"/>
<rect x="1031.21" y="564.16" width="28.09" height="47.25" fill="#000000"/>
<rect x="1058.3" y="564.16" width="28.09" height="47.25" fill="#1a3956"/>
<rect x="1085.38" y="564.16" width="55.17" height="47.25" fill="#265176"/>
<rect x="1139.55" y="564.16" width="55.17" height="47.25" fill="#1a3956"/>
<rect x="1193.73" y="564.16" width="28.09" height="47.25" fill="#2a5980"/>
<rect x="1220.81" y="564.16" width="28.09" height="47.25" fill="#234a6d"/>
<rect x="1247.9" y="564.16" width="28.09" height="47.25" fill="#1a3956"/>
<rect x="1274.98" y="564.16" width="28.09" height="47.25" fill="#204465"/>
<rect x="1302.07" y="564.16" width="82.26" height="47.25" fill="#1a3956"/>
<rect x="1383.33" y="564.16" width="28.09" height="47.25" fill="#2a5980"/>
<rect x="1410.41" y="564.16" width="28.09" height="47.25" fill="#000000"/>
<rect x="1437.5" y="564.16" width="28.09" height="47.25" fill="#3875a6"/>
<rect x="1464.58" y="564.16" width="28.09" height="47.25" fill="#2a5980"/>
<rect x="1491.67" y="564.16" width="28.09" height="47.25" fill="#234a6d"/>
<rect x="1518.76" y="564.16" width="55.17" height="47.25" fill="#1a3956"/>
<rect x="1572.93" y="564.16" width="28.09" height="47.25" fill="#234a6d"/>
<rect x="1600.01" y="564.16" width="27.09" height="47.25" fill="#000000"/>
<rect x="191.55" y="610.4" width="271.86" height="46.25" fill="#000000"/>
<rect x="462.41" y="610.4" width="28.09" height="46.25" fill="#56b1f7"/>
<rect x="489.49" y="610.4" width="109.34" height="46.25" fill="#000000"/>
<rect x="597.84" y="610.4" width="28.09" height="46.25" fill="#56b1f7"/>
<rect x="624.92" y="610.4" width="190.6" height="46.25" fill="#000000"/>
<rect x="814.52" y="610.4" width="28.09" height="46.25" fill="#56b1f7"/>
<rect x="841.61" y="610.4" width="136.43" height="46.25" fill="#000000"/>
<rect x="977.04" y="610.4" width="28.09" height="46.25" fill="#56b1f7"/>
<rect x="1004.13" y="610.4" width="28.09" height="46.25" fill="#000000"/>
<rect x="1031.21" y="610.4" width="28.09" height="46.25" fill="#56b1f7"/>
<rect x="1058.3" y="610.4" width="136.43" height="46.25" fill="#000000"/>
<rect x="1193.73" y="610.4" width="28.09" height="46.25" fill="#56b1f7"/>
<rect x="1220.81" y="610.4" width="109.34" height="46.25" fill="#000000"/>
<rect x="1329.16" y="610.4" width="28.09" height="46.25" fill="#56b1f7"/>
<rect x="1356.24" y="610.4" width="82.26" height="46.25" fill="#000000"/>
<rect x="1437.5" y="610.4" width="28.09" height="46.25" fill="#56b1f7"/>
<rect x="1464.58" y="610.4" width="162.52" height="46.25" fill="#000000"/>
<text class="yl" x="180.1" y="85.77">Treg_TRA</text>
<text class="yl" x="180.1" y="132.02">Treg(diff)_TRA</text>
<text class="yl" x="180.1" y="178.27">T(agonist)_TRA</text>
<text class="yl" x="180.1" y="224.51">NKT_TRA</text>
<text class="yl" x="180.1" y="270.76">CD8+ SP_TRA</text>
<text class="yl" x="180.1" y="317">CD4+ SP_TRA</text>
<text class="yl" x="180.1" y="363.25">CD8aa(II)_TRA</text>
<text class="yl" x="180.1" y="409.5">CD8aa(I)_TRA</text>
<text class="yl" x="180.1" y="455.74">abT(entry)_TRA</text>
<text class="yl" x="180.1" y="501.99">DP(Q)_TRA</text>
<text class="yl" x="180.1" y="548.23">DP(P)_TRA</text>
<text class="yl" x="180.1" y="594.48">DN(Q)_TRA</text>
<text class="yl" x="180.1" y="640.73">DN(P)_TRA</text>
<text class="xl" transform="translate(209.99 671.2) rotate(-90) scale(0.93 1)">TRAJ3</text>
<text class="xl" transform="translate(237.08 671.2) rotate(-90) scale(0.93 1)">TRAJ4</text>
<text class="xl" transform="translate(264.16 671.2) rotate(-90) scale(0.93 1)">TRAJ5</text>
<text class="xl" transform="translate(291.25 671.2) rotate(-90) scale(0.93 1)">TRAJ6</text>
<text class="xl" transform="translate(318.34 671.2) rotate(-90) scale(0.93 1)">TRAJ7</text>
<text class="xl" transform="translate(345.42 671.2) rotate(-90) scale(0.93 1)">TRAJ8</text>
<text class="xl" transform="translate(372.51 671.2) rotate(-90) scale(0.93 1)">TRAJ9</text>
<text class="xl" transform="translate(399.59 671.2) rotate(-90) scale(0.93 1)">TRAJ10</text>
<text class="xl" transform="translate(426.68 671.2) rotate(-90) scale(0.93 1)">TRAJ11</text>
<text class="xl" transform="translate(453.77 671.2) rotate(-90) scale(0.93 1)">TRAJ12</text>
<text class="xl" transform="translate(480.85 671.2) rotate(-90) scale(0.93 1)">TRAJ13</text>
<text class="xl" transform="translate(507.94 671.2) rotate(-90) scale(0.93 1)">TRAJ15</text>
<text class="xl" transform="translate(535.02 671.2) rotate(-90) scale(0.93 1)">TRAJ16</text>
<text class="xl" transform="translate(562.11 671.2) rotate(-90) scale(0.93 1)">TRAJ17</text>
<text class="xl" transform="translate(589.19 671.2) rotate(-90) scale(0.93 1)">TRAJ18</text>
<text class="xl" transform="translate(616.28 671.2) rotate(-90) scale(0.93 1)">TRAJ20</text>
<text class="xl" transform="translate(643.37 671.2) rotate(-90) scale(0.93 1)">TRAJ21</text>
<text class="xl" transform="translate(670.45 671.2) rotate(-90) scale(0.93 1)">TRAJ22</text>
<text class="xl" transform="translate(697.54 671.2) rotate(-90) scale(0.93 1)">TRAJ23</text>
<text class="xl" transform="translate(724.62 671.2) rotate(-90) scale(0.93 1)">TRAJ24</text>
<text class="xl" transform="translate(751.71 671.2) rotate(-90) scale(0.93 1)">TRAJ25</text>
<text class="xl" transform="translate(778.8 671.2) rotate(-90) scale(0.93 1)">TRAJ26</text>
<text class="xl" transform="translate(805.88 671.2) rotate(-90) scale(0.93 1)">TRAJ27</text>
<text class="xl" transform="translate(832.97 671.2) rotate(-90) scale(0.93 1)">TRAJ28</text>
<text class="xl" transform="translate(860.05 671.2) rotate(-90) scale(0.93 1)">TRAJ29</text>
<text class="xl" transform="translate(887.14 671.2) rotate(-90) scale(0.93 1)">TRAJ30</text>
<text class="xl" transform="translate(914.23 671.2) rotate(-90) scale(0.93 1)">TRAJ31</text>
<text class="xl" transform="translate(941.31 671.2) rotate(-90) scale(0.93 1)">TRAJ32</text>
<text class="xl" transform="translate(968.4 671.2) rotate(-90) scale(0.93 1)">TRAJ33</text>
<text class="xl" transform="translate(995.48 671.2) rotate(-90) scale(0.93 1)">TRAJ34</text>
<text class="xl" transform="translate(1022.57 671.2) rotate(-90) scale(0.93 1)">TRAJ35</text>
<text class="xl" transform="translate(1049.65 671.2) rotate(-90) scale(0.93 1)">TRAJ36</text>
<text class="xl" transform="translate(1076.74 671.2) rotate(-90) scale(0.93 1)">TRAJ37</text>
<text class="xl" transform="translate(1103.83 671.2) rotate(-90) scale(0.93 1)">TRAJ38</text>
<text class="xl" transform="translate(1130.91 671.2) rotate(-90) scale(0.93 1)">TRAJ39</text>
<text class="xl" transform="translate(1158 671.2) rotate(-90) scale(0.93 1)">TRAJ40</text>
<text class="xl" transform="translate(1185.08 671.2) rotate(-90) scale(0.93 1)">TRAJ41</text>
<text class="xl" transform="translate(1212.17 671.2) rotate(-90) scale(0.93 1)">TRAJ42</text>
<text class="xl" transform="translate(1239.26 671.2) rotate(-90) scale(0.93 1)">TRAJ43</text>
<text class="xl" transform="translate(1266.34 671.2) rotate(-90) scale(0.93 1)">TRAJ44</text>
<text class="xl" transform="translate(1293.43 671.2) rotate(-90) scale(0.93 1)">TRAJ45</text>
<text class="xl" transform="translate(1320.51 671.2) rotate(-90) scale(0.93 1)">TRAJ46</text>
<text class="xl" transform="translate(1347.6 671.2) rotate(-90) scale(0.93 1)">TRAJ47</text>
<text class="xl" transform="translate(1374.68 671.2) rotate(-90) scale(0.93 1)">TRAJ48</text>
<text class="xl" transform="translate(1401.77 671.2) rotate(-90) scale(0.93 1)">TRAJ49</text>
<text class="xl" transform="translate(1428.86 671.2) rotate(-90) scale(0.93 1)">TRAJ50</text>
<text class="xl" transform="translate(1455.94 671.2) rotate(-90) scale(0.93 1)">TRAJ52</text>
<text class="xl" transform="translate(1483.03 671.2) rotate(-90) scale(0.93 1)">TRAJ53</text>
<text class="xl" transform="translate(1510.11 671.2) rotate(-90) scale(0.93 1)">TRAJ54</text>
<text class="xl" transform="translate(1537.2 671.2) rotate(-90) scale(0.93 1)">TRAJ56</text>
<text class="xl" transform="translate(1564.29 671.2) rotate(-90) scale(0.93 1)">TRAJ57</text>
<text class="xl" transform="translate(1591.37 671.2) rotate(-90) scale(0.93 1)">TRAJ58</text>
<text class="xl" transform="translate(1618.46 671.2) rotate(-90) scale(0.93 1)">TRAJ61</text>
<path d="M185 78.57H188.8M185 124.82H188.8M185 171.07H188.8M185 217.31H188.8M185 263.56H188.8M185 309.8H188.8M185 356.05H188.8M185 402.3H188.8M185 448.54H188.8M185 494.79H188.8M185 541.03H188.8M185 587.28H188.8M185 633.53H188.8M205.09 661.8V666.3M232.18 661.8V666.3M259.26 661.8V666.3M286.35 661.8V666.3M313.44 661.8V666.3M340.52 661.8V666.3M367.61 661.8V666.3M394.69 661.8V666.3M421.78 661.8V666.3M448.87 661.8V666.3M475.95 661.8V666.3M503.04 661.8V666.3M530.12 661.8V666.3M557.21 661.8V666.3M584.29 661.8V666.3M611.38 661.8V666.3M638.47 661.8V666.3M665.55 661.8V666.3M692.64 661.8V666.3M719.72 661.8V666.3M746.81 661.8V666.3M773.9 661.8V666.3M800.98 661.8V666.3M828.07 661.8V666.3M855.15 661.8V666.3M882.24 661.8V666.3M909.33 661.8V666.3M936.41 661.8V666.3M963.5 661.8V666.3M990.58 661.8V666.3M1017.67 661.8V666.3M1044.75 661.8V666.3M1071.84 661.8V666.3M1098.93 661.8V666.3M1126.01 661.8V666.3M1153.1 661.8V666.3M1180.18 661.8V666.3M1207.27 661.8V666.3M1234.36 661.8V666.3M1261.44 661.8V666.3M1288.53 661.8V666.3M1315.61 661.8V666.3M1342.7 661.8V666.3M1369.78 661.8V666.3M1396.87 661.8V666.3M1423.96 661.8V666.3M1451.04 661.8V666.3M1478.13 661.8V666.3M1505.21 661.8V666.3M1532.3 661.8V666.3M1559.39 661.8V666.3M1586.47 661.8V666.3M1613.56 661.8V666.3" stroke="#333333" stroke-width="1.7" fill="none"/>
</g>
<g>
<rect x="183.2" y="736" width="1448.4" height="562.2" fill="#e9e9e9"/>
<path d="M203.04 736V1298.2M235.82 736V1298.2M268.61 736V1298.2M301.39 736V1298.2M334.17 736V1298.2M366.96 736V1298.2M399.74 736V1298.2M432.52 736V1298.2M465.31 736V1298.2M498.09 736V1298.2M530.87 736V1298.2M563.65 736V1298.2M596.44 736V1298.2M629.22 736V1298.2M662 736V1298.2M694.79 736V1298.2M727.57 736V1298.2M760.35 736V1298.2M793.13 736V1298.2M825.92 736V1298.2M858.7 736V1298.2M891.48 736V1298.2M924.27 736V1298.2M957.05 736V1298.2M989.83 736V1298.2M1022.62 736V1298.2M1055.4 736V1298.2M1088.18 736V1298.2M1120.96 736V1298.2M1153.75 736V1298.2M1186.53 736V1298.2M1219.31 736V1298.2M1252.1 736V1298.2M1284.88 736V1298.2M1317.66 736V1298.2M1350.44 736V1298.2M1383.23 736V1298.2M1416.01 736V1298.2M1448.79 736V1298.2M1481.58 736V1298.2M1514.36 736V1298.2M1547.14 736V1298.2M1579.93 736V1298.2M1612.71 736V1298.2M183.2 761.81H1631.6M183.2 804.43H1631.6M183.2 847.06H1631.6M183.2 889.68H1631.6M183.2 932.3H1631.6M183.2 974.93H1631.6M183.2 1017.55H1631.6M183.2 1060.17H1631.6M183.2 1102.8H1631.6M183.2 1145.42H1631.6M183.2 1188.04H1631.6M183.2 1230.67H1631.6M183.2 1273.29H1631.6" stroke="#ffffff" stroke-width="1.8" fill="none"/>
<rect x="184.8" y="738.4" width="1445.6" height="557.6" fill="#ffffff"/>
<rect x="186.65" y="740.5" width="1442.45" height="554.1" fill="#17324d"/>
<rect x="186.65" y="740.5" width="33.78" height="43.62" fill="#1d3e5d"/>
<rect x="219.43" y="740.5" width="66.57" height="43.62" fill="#204465"/>
<rect x="285" y="740.5" width="33.78" height="43.62" fill="#234a6d"/>
<rect x="317.78" y="740.5" width="66.57" height="43.62" fill="#1d3e5d"/>
<rect x="383.35" y="740.5" width="33.78" height="43.62" fill="#204465"/>
<rect x="416.13" y="740.5" width="33.78" height="43.62" fill="#153049"/>
<rect x="448.91" y="740.5" width="33.78" height="43.62" fill="#183450"/>
<rect x="481.7" y="740.5" width="33.78" height="43.62" fill="#2a5980"/>
<rect x="514.48" y="740.5" width="33.78" height="43.62" fill="#204465"/>
<rect x="547.26" y="740.5" width="33.78" height="43.62" fill="#1a3956"/>
<rect x="580.05" y="740.5" width="33.78" height="43.62" fill="#000000"/>
<rect x="612.83" y="740.5" width="33.78" height="43.62" fill="#265176"/>
<rect x="645.61" y="740.5" width="33.78" height="43.62" fill="#153049"/>
<rect x="678.39" y="740.5" width="33.78" height="43.62" fill="#1a3956"/>
<rect x="711.18" y="740.5" width="33.78" height="43.62" fill="#2a5980"/>
<rect x="743.96" y="740.5" width="33.78" height="43.62" fill="#204465"/>
<rect x="776.74" y="740.5" width="33.78" height="43.62" fill="#2a5980"/>
<rect x="809.53" y="740.5" width="33.78" height="43.62" fill="#183450"/>
<rect x="842.31" y="740.5" width="33.78" height="43.62" fill="#1a3956"/>
<rect x="875.09" y="740.5" width="33.78" height="43.62" fill="#153049"/>
<rect x="907.87" y="740.5" width="33.78" height="43.62" fill="#1a3956"/>
<rect x="940.66" y="740.5" width="33.78" height="43.62" fill="#000000"/>
<rect x="973.44" y="740.5" width="66.57" height="43.62" fill="#1d3e5d"/>
<rect x="1039.01" y="740.5" width="33.78" height="43.62" fill="#234a6d"/>
<rect x="1071.79" y="740.5" width="33.78" height="43.62" fill="#153049"/>
<rect x="1104.57" y="740.5" width="33.78" height="43.62" fill="#1a3956"/>
<rect x="1137.36" y="740.5" width="33.78" height="43.62" fill="#153049"/>
<rect x="1170.14" y="740.5" width="33.78" height="43.62" fill="#183450"/>
<rect x="1202.92" y="740.5" width="33.78" height="43.62" fill="#265176"/>
<rect x="1235.7" y="740.5" width="33.78" height="43.62" fill="#153049"/>
<rect x="1268.49" y="740.5" width="33.78" height="43.62" fill="#183450"/>
<rect x="1301.27" y="740.5" width="33.78" height="43.62" fill="#2a5980"/>
<rect x="1334.05" y="740.5" width="33.78" height="43.62" fill="#153049"/>
<rect x="1366.84" y="740.5" width="33.78" height="43.62" fill="#132b43"/>
<rect x="1399.62" y="740.5" width="99.35" height="43.62" fill="#183450"/>
<rect x="1497.97" y="740.5" width="33.78" height="43.62" fill="#204465"/>
<rect x="1530.75" y="740.5" width="33.78" height="43.62" fill="#183450"/>
<rect x="1563.53" y="740.5" width="33.78" height="43.62" fill="#000000"/>
<rect x="1596.32" y="740.5" width="32.78" height="43.62" fill="#183450"/>
<rect x="186.65" y="783.12" width="33.78" height="43.62" fill="#153049"/>
<rect x="219.43" y="783.12" width="66.57" height="43.62" fill="#183450"/>
<rect x="285" y="783.12" width="33.78" height="43.62" fill="#204465"/>
<rect x="317.78" y="783.12" width="33.78" height="43.62" fill="#1d3e5d"/>
<rect x="350.56" y="783.12" width="132.13" height="43.62" fill="#1a3956"/>
<rect x="481.7" y="783.12" width="33.78" height="43.62" fill="#265176"/>
<rect x="514.48" y="783.12" width="66.57" height="43.62" fill="#1a3956"/>
<rect x="580.05" y="783.12" width="33.78" height="43.62" fill="#000000"/>
<rect x="612.83" y="783.12" width="33.78" height="43.62" fill="#265176"/>
<rect x="645.61" y="783.12" width="33.78" height="43.62" fill="#153049"/>
<rect x="678.39" y="783.12" width="33.78" height="43.62" fill="#204465"/>
<rect x="711.18" y="783.12" width="33.78" height="43.62" fill="#234a6d"/>
<rect x="743.96" y="783.12" width="33.78" height="43.62" fill="#204465"/>
<rect x="776.74" y="783.12" width="33.78" height="43.62" fill="#265176"/>
<rect x="809.53" y="783.12" width="33.78" height="43.62" fill="#183450"/>
<rect x="842.31" y="783.12" width="33.78" height="43.62" fill="#1a3956"/>
<rect x="875.09" y="783.12" width="33.78" height="43.62" fill="#153049"/>
<rect x="907.87" y="783.12" width="33.78" height="43.62" fill="#234a6d"/>
<rect x="940.66" y="783.12" width="33.78" height="43.62" fill="#000000"/>
<rect x="973.44" y="783.12" width="33.78" height="43.62" fill="#204465"/>
<rect x="1006.22" y="783.12" width="33.78" height="43.62" fill="#1a3956"/>
<rect x="1039.01" y="783.12" width="33.78" height="43.62" fill="#204465"/>
<rect x="1071.79" y="783.12" width="33.78" height="43.62" fill="#153049"/>
<rect x="1104.57" y="783.12" width="66.57" height="43.62" fill="#183450"/>
<rect x="1170.14" y="783.12" width="33.78" height="43.62" fill="#1a3956"/>
<rect x="1202.92" y="783.12" width="33.78" height="43.62" fill="#2a5980"/>
<rect x="1235.7" y="783.12" width="66.57" height="43.62" fill="#183450"/>
<rect x="1301.27" y="783.12" width="33.78" height="43.62" fill="#2a5980"/>
<rect x="1334.05" y="783.12" width="33.78" height="43.62" fill="#153049"/>
<rect x="1366.84" y="783.12" width="33.78" height="43.62" fill="#132b43"/>
<rect x="1399.62" y="783.12" width="33.78" height="43.62" fill="#234a6d"/>
<rect x="1432.4" y="783.12" width="33.78" height="43.62" fill="#153049"/>
<rect x="1465.19" y="783.12" width="33.78" height="43.62" fill="#1d3e5d"/>
<rect x="1497.97" y="783.12" width="33.78" height="43.62" fill="#204465"/>
<rect x="1530.75" y="783.12" width="33.78" height="43.62" fill="#183450"/>
<rect x="1563.53" y="783.12" width="33.78" height="43.62" fill="#132b43"/>
<rect x="1596.32" y="783.12" width="32.78" height="43.62" fill="#1a3956"/>
<rect x="186.65" y="825.75" width="33.78" height="43.62" fill="#183450"/>
<rect x="219.43" y="825.75" width="33.78" height="43.62" fill="#1d3e5d"/>
<rect x="252.22" y="825.75" width="33.78" height="43.62" fill="#1a3956"/>
<rect x="285" y="825.75" width="66.57" height="43.62" fill="#204465"/>
<rect x="350.56" y="825.75" width="33.78" height="43.62" fill="#1d3e5d"/>
<rect x="383.35" y="825.75" width="66.57" height="43.62" fill="#1a3956"/>
<rect x="448.91" y="825.75" width="33.78" height="43.62" fill="#183450"/>
<rect x="481.7" y="825.75" width="33.78" height="43.62" fill="#234a6d"/>
<rect x="514.48" y="825.75" width="66.57" height="43.62" fill="#1d3e5d"/>
<rect x="580.05" y="825.75" width="33.78" height="43.62" fill="#000000"/>
<rect x="612.83" y="825.75" width="33.78" height="43.62" fill="#265176"/>
<rect x="645.61" y="825.75" width="33.78" height="43.62" fill="#153049"/>
<rect x="678.39" y="825.75" width="33.78" height="43.62" fill="#1d3e5d"/>
<rect x="711.18" y="825.75" width="33.78" height="43.62" fill="#204465"/>
<rect x="743.96" y="825.75" width="33.78" height="43.62" fill="#1a3956"/>
<rect x="776.74" y="825.75" width="33.78" height="43.62" fill="#2a5980"/>
<rect x="809.53" y="825.75" width="33.78" height="43.62" fill="#183450"/>
<rect x="842.31" y="825.75" width="33.78" height="43.62" fill="#204465"/>
<rect x="875.09" y="825.75" width="33.78" height="43.62" fill="#153049"/>
<rect x="907.87" y="825.75" width="33.78" height="43.62" fill="#204465"/>
<rect x="940.66" y="825.75" width="33.78" height="43.62" fill="#000000"/>
<rect x="973.44" y="825.75" width="33.78" height="43.62" fill="#204465"/>
<rect x="1006.22" y="825.75" width="33.78" height="43.62" fill="#1a3956"/>
<rect x="1039.01" y="825.75" width="33.78" height="43.62" fill="#204465"/>
<rect x="1071.79" y="825.75" width="33.78" height="43.62" fill="#183450"/>
<rect x="1104.57" y="825.75" width="33.78" height="43.62" fill="#1a3956"/>
<rect x="1137.36" y="825.75" width="66.57" height="43.62" fill="#183450"/>
<rect x="1202.92" y="825.75" width="33.78" height="43.62" fill="#234a6d"/>
<rect x="1235.7" y="825.75" width="33.78" height="43.62" fill="#183450"/>
<rect x="1268.49" y="825.75" width="33.78" height="43.62" fill="#1a3956"/>
<rect x="1301.27" y="825.75" width="33.78" height="43.62" fill="#2a5980"/>
<rect x="1334.05" y="825.75" width="33.78" height="43.62" fill="#153049"/>
<rect x="1366.84" y="825.75" width="33.78" height="43.62" fill="#132b43"/>
<rect x="1399.62" y="825.75" width="33.78" height="43.62" fill="#204465"/>
<rect x="1432.4" y="825.75" width="33.78" height="43.62" fill="#153049"/>
<rect x="1465.19" y="825.75" width="33.78" height="43.62" fill="#1d3e5d"/>
<rect x="1497.97" y="825.75" width="33.78" height="43.62" fill="#204465"/>
<rect x="1530.75" y="825.75" width="33.78" height="43.62" fill="#183450"/>
<rect x="1563.53" y="825.75" width="33.78" height="43.62" fill="#132b43"/>
<rect x="1596.32" y="825.75" width="32.78" height="43.62" fill="#1a3956"/>
<rect x="186.65" y="868.37" width="33.78" height="43.62" fill="#1a3956"/>
<rect x="219.43" y="868.37" width="33.78" height="43.62" fill="#2a5980"/>
<rect x="252.22" y="868.37" width="33.78" height="43.62" fill="#000000"/>
<rect x="285" y="868.37" width="33.78" height="43.62" fill="#204465"/>
<rect x="317.78" y="868.37" width="33.78" height="43.62" fill="#1a3956"/>
<rect x="350.56" y="868.37" width="33.78" height="43.62" fill="#204465"/>
<rect x="383.35" y="868.37" width="33.78" height="43.62" fill="#183450"/>
<rect x="416.13" y="868.37" width="99.35" height="43.62" fill="#153049"/>
<rect x="514.48" y="868.37" width="33.78" height="43.62" fill="#1d3e5d"/>
<rect x="547.26" y="868.37" width="33.78" height="43.62" fill="#1a3956"/>
<rect x="580.05" y="868.37" width="33.78" height="43.62" fill="#000000"/>
<rect x="612.83" y="868.37" width="33.78" height="43.62" fill="#204465"/>
<rect x="645.61" y="868.37" width="33.78" height="43.62" fill="#1a3956"/>
<rect x="678.39" y="868.37" width="33.78" height="43.62" fill="#1d3e5d"/>
<rect x="711.18" y="868.37" width="33.78" height="43.62" fill="#2e618b"/>
<rect x="743.96" y="868.37" width="33.78" height="43.62" fill="#1a3956"/>
<rect x="776.74" y="868.37" width="33.78" height="43.62" fill="#1d3e5d"/>
<rect x="809.53" y="868.37" width="33.78" height="43.62" fill="#153049"/>
<rect x="842.31" y="868.37" width="33.78" height="43.62" fill="#234a6d"/>
<rect x="875.09" y="868.37" width="33.78" height="43.62" fill="#153049"/>
<rect x="907.87" y="868.37" width="33.78" height="43.62" fill="#204465"/>
<rect x="940.66" y="868.37" width="33.78" height="43.62" fill="#000000"/>
<rect x="973.44" y="868.37" width="33.78" height="43.62" fill="#234a6d"/>
<rect x="1006.22" y="868.37" width="33.78" height="43.62" fill="#1a3956"/>
<rect x="1039.01" y="868.37" width="33.78" height="43.62" fill="#2a5980"/>
<rect x="1071.79" y="868.37" width="66.57" height="43.62" fill="#153049"/>
<rect x="1137.36" y="868.37" width="33.78" height="43.62" fill="#183450"/>
<rect x="1170.14" y="868.37" width="33.78" height="43.62" fill="#1a3956"/>
<rect x="1202.92" y="868.37" width="33.78" height="43.62" fill="#000000"/>
<rect x="1235.7" y="868.37" width="33.78" height="43.62" fill="#153049"/>
<rect x="1268.49" y="868.37" width="33.78" height="43.62" fill="#1a3956"/>
<rect x="1301.27" y="868.37" width="33.78" height="43.62" fill="#2a5980"/>
<rect x="1334.05" y="868.37" width="33.78" height="43.62" fill="#1a3956"/>
<rect x="1366.84" y="868.37" width="33.78" height="43.62" fill="#132b43"/>
<rect x="1399.62" y="868.37" width="33.78" height="43.62" fill="#153049"/>
<rect x="1432.4" y="868.37" width="33.78" height="43.62" fill="#183450"/>
<rect x="1465.19" y="868.37" width="33.78" height="43.62" fill="#1d3e5d"/>
<rect x="1497.97" y="868.37" width="33.78" height="43.62" fill="#2a5980"/>
<rect x="1530.75" y="868.37" width="33.78" height="43.62" fill="#183450"/>
<rect x="1563.53" y="868.37" width="33.78" height="43.62" fill="#000000"/>
<rect x="1596.32" y="868.37" width="32.78" height="43.62" fill="#204465"/>
<rect x="186.65" y="910.99" width="33.78" height="43.62" fill="#1a3956"/>
<rect x="219.43" y="910.99" width="33.78" height="43.62" fill="#2a5980"/>
<rect x="252.22" y="910.99" width="33.78" height="43.62" fill="#153049"/>
<rect x="285" y="910.99" width="33.78" height="43.62" fill="#234a6d"/>
<rect x="317.78" y="910.99" width="33.78" height="43.62" fill="#265176"/>
<rect x="350.56" y="910.99" width="33.78" height="43.62" fill="#1d3e5d"/>
<rect x="383.35" y="910.99" width="99.35" height="43.62" fill="#183450"/>
<rect x="481.7" y="910.99" width="99.35" height="43.62" fill="#1a3956"/>
<rect x="580.05" y="910.99" width="33.78" height="43.62" fill="#000000"/>
<rect x="612.83" y="910.99" width="33.78" height="43.62" fill="#1d3e5d"/>
<rect x="645.61" y="910.99" width="33.78" height="43.62" fill="#183450"/>
<rect x="678.39" y="910.99" width="33.78" height="43.62" fill="#1a3956"/>
<rect x="711.18" y="910.99" width="33.78" height="43.62" fill="#2a5980"/>
<rect x="743.96" y="910.99" width="33.78" height="43.62" fill="#1a3956"/>
<rect x="776.74" y="910.99" width="33.78" height="43.62" fill="#204465"/>
<rect x="809.53" y="910.99" width="33.78" height="43.62" fill="#1a3956"/>
<rect x="842.31" y="910.99" width="33.78" height="43.62" fill="#265176"/>
<rect x="875.09" y="910.99" width="33.78" height="43.62" fill="#153049"/>
<rect x="907.87" y="910.99" width="33.78" height="43.62" fill="#204465"/>
<rect x="940.66" y="910.99" width="33.78" height="43.62" fill="#000000"/>
<rect x="973.44" y="910.99" width="33.78" height="43.62" fill="#2e618b"/>
<rect x="1006.22" y="910.99" width="33.78" height="43.62" fill="#183450"/>
<rect x="1039.01" y="910.99" width="33.78" height="43.62" fill="#2a5980"/>
<rect x="1071.79" y="910.99" width="33.78" height="43.62" fill="#183450"/>
<rect x="1104.57" y="910.99" width="33.78" height="43.62" fill="#153049"/>
<rect x="1137.36" y="910.99" width="66.57" height="43.62" fill="#1a3956"/>
<rect x="1202.92" y="910.99" width="66.57" height="43.62" fill="#183450"/>
<rect x="1268.49" y="910.99" width="33.78" height="43.62" fill="#1d3e5d"/>
<rect x="1301.27" y="910.99" width="33.78" height="43.62" fill="#234a6d"/>
<rect x="1334.05" y="910.99" width="33.78" height="43.62" fill="#153049"/>
<rect x="1366.84" y="910.99" width="33.78" height="43.62" fill="#132b43"/>
<rect x="1399.62" y="910.99" width="33.78" height="43.62" fill="#1a3956"/>
<rect x="1432.4" y="910.99" width="33.78" height="43.62" fill="#153049"/>
<rect x="1465.19" y="910.99" width="33.78" height="43.62" fill="#1d3e5d"/>
<rect x="1497.97" y="910.99" width="33.78" height="43.62" fill="#234a6d"/>
<rect x="1530.75" y="910.99" width="33.78" height="43.62" fill="#183450"/>
<rect x="1563.53" y="910.99" width="33.78" height="43.62" fill="#132b43"/>
<rect x="1596.32" y="910.99" width="32.78" height="43.62" fill="#153049"/>
<rect x="186.65" y="953.62" width="99.35" height="43.62" fill="#183450"/>
<rect x="285" y="953.62" width="33.78" height="43.62" fill="#1d3e5d"/>
<rect x="317.78" y="953.62" width="66.57" height="43.62" fill="#1a3956"/>
<rect x="383.35" y="953.62" width="33.78" height="43.62" fill="#183450"/>
<rect x="416.13" y="953.62" width="33.78" height="43.62" fill="#1a3956"/>
<rect x="448.91" y="953.62" width="33.78" height="43.62" fill="#183450"/>
<rect x="481.7" y="953.62" width="33.78" height="43.62" fill="#234a6d"/>
<rect x="514.48" y="953.62" width="33.78" height="43.62" fill="#204465"/>
<rect x="547.26" y="953.62" width="33.78" height="43.62" fill="#1a3956"/>
<rect x="580.05" y="953.62" width="33.78" height="43.62" fill="#132b43"/>
<rect x="612.83" y="953.62" width="33.78" height="43.62" fill="#2a5980"/>
<rect x="645.61" y="953.62" width="33.78" height="43.62" fill="#183450"/>
<rect x="678.39" y="953.62" width="33.78" height="43.62" fill="#1a3956"/>
<rect x="711.18" y="953.62" width="33.78" height="43.62" fill="#1d3e5d"/>
<rect x="743.96" y="953.62" width="33.78" height="43.62" fill="#1a3956"/>
<rect x="776.74" y="953.62" width="33.78" height="43.62" fill="#2a5980"/>
<rect x="809.53" y="953.62" width="33.78" height="43.62" fill="#1a3956"/>
<rect x="842.31" y="953.62" width="33.78" height="43.62" fill="#1d3e5d"/>
<rect x="875.09" y="953.62" width="33.78" height="43.62" fill="#153049"/>
<rect x="907.87" y="953.62" width="33.78" height="43.62" fill="#204465"/>
<rect x="940.66" y="953.62" width="33.78" height="43.62" fill="#000000"/>
<rect x="973.44" y="953.62" width="33.78" height="43.62" fill="#204465"/>
<rect x="1006.22" y="953.62" width="33.78" height="43.62" fill="#1a3956"/>
<rect x="1039.01" y="953.62" width="33.78" height="43.62" fill="#234a6d"/>
<rect x="1071.79" y="953.62" width="33.78" height="43.62" fill="#183450"/>
<rect x="1104.57" y="953.62" width="33.78" height="43.62" fill="#204465"/>
<rect x="1137.36" y="953.62" width="33.78" height="43.62" fill="#183450"/>
<rect x="1170.14" y="953.62" width="33.78" height="43.62" fill="#1a3956"/>
<rect x="1202.92" y="953.62" width="33.78" height="43.62" fill="#265176"/>
<rect x="1235.7" y="953.62" width="66.57" height="43.62" fill="#1a3956"/>
<rect x="1301.27" y="953.62" width="33.78" height="43.62" fill="#265176"/>
<rect x="1334.05" y="953.62" width="33.78" height="43.62" fill="#153049"/>
<rect x="1366.84" y="953.62" width="33.78" height="43.62" fill="#132b43"/>
<rect x="1399.62" y="953.62" width="33.78" height="43.62" fill="#204465"/>
<rect x="1432.4" y="953.62" width="33.78" height="43.62" fill="#183450"/>
<rect x="1465.19" y="953.62" width="33.78" height="43.62" fill="#1a3956"/>
<rect x="1497.97" y="953.62" width="33.78" height="43.62" fill="#204465"/>
<rect x="1530.75" y="953.62" width="33.78" height="43.62" fill="#183450"/>
<rect x="1563.53" y="953.62" width="33.78" height="43.62" fill="#132b43"/>
<rect x="1596.32" y="953.62" width="32.78" height="43.62" fill="#183450"/>
<rect x="186.65" y="996.24" width="66.57" height="43.62" fill="#183450"/>
<rect x="252.22" y="996.24" width="33.78" height="43.62" fill="#153049"/>
<rect x="285" y="996.24" width="33.78" height="43.62" fill="#1d3e5d"/>
<rect x="317.78" y="996.24" width="99.35" height="43.62" fill="#1a3956"/>
<rect x="416.13" y="996.24" width="66.57" height="43.62" fill="#153049"/>
<rect x="481.7" y="996.24" width="33.78" height="43.62" fill="#183450"/>
<rect x="514.48" y="996.24" width="33.78" height="43.62" fill="#234a6d"/>
<rect x="547.26" y="996.24" width="33.78" height="43.62" fill="#183450"/>
<rect x="580.05" y="996.24" width="33.78" height="43.62" fill="#000000"/>
<rect x="612.83" y="996.24" width="33.78" height="43.62" fill="#265176"/>
<rect x="645.61" y="996.24" width="66.57" height="43.62" fill="#183450"/>
<rect x="711.18" y="996.24" width="66.57" height="43.62" fill="#204465"/>
<rect x="776.74" y="996.24" width="33.78" height="43.62" fill="#1d3e5d"/>
<rect x="809.53" y="996.24" width="33.78" height="43.62" fill="#183450"/>
<rect x="842.31" y="996.24" width="33.78" height="43.62" fill="#204465"/>
<rect x="875.09" y="996.24" width="33.78" height="43.62" fill="#153049"/>
<rect x="907.87" y="996.24" width="33.78" height="43.62" fill="#204465"/>
<rect x="940.66" y="996.24" width="33.78" height="43.62" fill="#000000"/>
<rect x="973.44" y="996.24" width="33.78" height="43.62" fill="#234a6d"/>
<rect x="1006.22" y="996.24" width="33.78" height="43.62" fill="#183450"/>
<rect x="1039.01" y="996.24" width="33.78" height="43.62" fill="#234a6d"/>
<rect x="1071.79" y="996.24" width="66.57" height="43.62" fill="#183450"/>
<rect x="1137.36" y="996.24" width="33.78" height="43.62" fill="#132b43"/>
<rect x="1170.14" y="996.24" width="33.78" height="43.62" fill="#183450"/>
<rect x="1202.92" y="996.24" width="33.78" height="43.62" fill="#234a6d"/>
<rect x="1235.7" y="996.24" width="33.78" height="43.62" fill="#1d3e5d"/>
<rect x="1268.49" y="996.24" width="33.78" height="43.62" fill="#1a3956"/>
<rect x="1301.27" y="996.24" width="33.78" height="43.62" fill="#1d3e5d"/>
<rect x="1334.05" y="996.24" width="33.78" height="43.62" fill="#1a3956"/>
<rect x="1366.84" y="996.24" width="33.78" height="43.62" fill="#153049"/>
<rect x="1399.62" y="996.24" width="33.78" height="43.62" fill="#2a5980"/>
<rect x="1432.4" y="996.24" width="33.78" height="43.62" fill="#1a3956"/>
<rect x="1465.19" y="996.24" width="33.78" height="43.62" fill="#204465"/>
<rect x="1497.97" y="996.24" width="33.78" height="43.62" fill="#2a5980"/>
<rect x="1530.75" y="996.24" width="33.78" height="43.62" fill="#183450"/>
<rect x="1563.53" y="996.24" width="33.78" height="43.62" fill="#132b43"/>
<rect x="1596.32" y="996.24" width="32.78" height="43.62" fill="#1d3e5d"/>
<rect x="186.65" y="1038.86" width="33.78" height="43.62" fill="#153049"/>
<rect x="219.43" y="1038.86" width="33.78" height="43.62" fill="#1a3956"/>
<rect x="252.22" y="1038.86" width="33.78" height="43.62" fill="#183450"/>
<rect x="285" y="1038.86" width="33.78" height="43.62" fill="#1a3956"/>
<rect x="317.78" y="1038.86" width="33.78" height="43.62" fill="#204465"/>
<rect x="350.56" y="1038.86" width="33.78" height="43.62" fill="#183450"/>
<rect x="383.35" y="1038.86" width="33.78" height="43.62" fill="#1a3956"/>
<rect x="416.13" y="1038.86" width="33.78" height="43.62" fill="#1d3e5d"/>
<rect x="448.91" y="1038.86" width="33.78" height="43.62" fill="#1a3956"/>
<rect x="481.7" y="1038.86" width="33.78" height="43.62" fill="#265176"/>
<rect x="514.48" y="1038.86" width="33.78" height="43.62" fill="#204465"/>
<rect x="547.26" y="1038.86" width="33.78" height="43.62" fill="#183450"/>
<rect x="580.05" y="1038.86" width="33.78" height="43.62" fill="#000000"/>
<rect x="612.83" y="1038.86" width="33.78" height="43.62" fill="#234a6d"/>
<rect x="645.61" y="1038.86" width="33.78" height="43.62" fill="#183450"/>
<rect x="678.39" y="1038.86" width="33.78" height="43.62" fill="#1a3956"/>
<rect x="711.18" y="1038.86" width="33.78" height="43.62" fill="#1d3e5d"/>
<rect x="743.96" y="1038.86" width="33.78" height="43.62" fill="#1a3956"/>
<rect x="776.74" y="1038.86" width="33.78" height="43.62" fill="#265176"/>
<rect x="809.53" y="1038.86" width="33.78" height="43.62" fill="#153049"/>
<rect x="842.31" y="1038.86" width="33.78" height="43.62" fill="#204465"/>
<rect x="875.09" y="1038.86" width="33.78" height="43.62" fill="#183450"/>
<rect x="907.87" y="1038.86" width="33.78" height="43.62" fill="#265176"/>
<rect x="940.66" y="1038.86" width="33.78" height="43.62" fill="#000000"/>
<rect x="973.44" y="1038.86" width="33.78" height="43.62" fill="#204465"/>
<rect x="1006.22" y="1038.86" width="33.78" height="43.62" fill="#183450"/>
<rect x="1039.01" y="1038.86" width="33.78" height="43.62" fill="#204465"/>
<rect x="1071.79" y="1038.86" width="33.78" height="43.62" fill="#153049"/>
<rect x="1104.57" y="1038.86" width="66.57" height="43.62" fill="#1a3956"/>
<rect x="1170.14" y="1038.86" width="33.78" height="43.62" fill="#183450"/>
<rect x="1202.92" y="1038.86" width="33.78" height="43.62" fill="#234a6d"/>
<rect x="1235.7" y="1038.86" width="66.57" height="43.62" fill="#183450"/>
<rect x="1301.27" y="1038.86" width="33.78" height="43.62" fill="#234a6d"/>
<rect x="1334.05" y="1038.86" width="33.78" height="43.62" fill="#183450"/>
<rect x="1366.84" y="1038.86" width="33.78" height="43.62" fill="#153049"/>
<rect x="1399.62" y="1038.86" width="33.78" height="43.62" fill="#234a6d"/>
<rect x="1432.4" y="1038.86" width="33.78" height="43.62" fill="#183450"/>
<rect x="1465.19" y="1038.86" width="66.57" height="43.62" fill="#1d3e5d"/>
<rect x="1530.75" y="1038.86" width="33.78" height="43.62" fill="#183450"/>
<rect x="1563.53" y="1038.86" width="33.78" height="43.62" fill="#000000"/>
<rect x="1596.32" y="1038.86" width="32.78" height="43.62" fill="#204465"/>
<rect x="186.65" y="1081.48" width="33.78" height="43.62" fill="#183450"/>
<rect x="219.43" y="1081.48" width="33.78" height="43.62" fill="#1d3e5d"/>
<rect x="252.22" y="1081.48" width="33.78" height="43.62" fill="#1a3956"/>
<rect x="285" y="1081.48" width="33.78" height="43.62" fill="#204465"/>
<rect x="317.78" y="1081.48" width="33.78" height="43.62" fill="#1d3e5d"/>
<rect x="350.56" y="1081.48" width="33.78" height="43.62" fill="#1a3956"/>
<rect x="383.35" y="1081.48" width="99.35" height="43.62" fill="#183450"/>
<rect x="481.7" y="1081.48" width="33.78" height="43.62" fill="#265176"/>
<rect x="514.48" y="1081.48" width="33.78" height="43.62" fill="#204465"/>
<rect x="547.26" y="1081.48" width="33.78" height="43.62" fill="#183450"/>
<rect x="580.05" y="1081.48" width="33.78" height="43.62" fill="#000000"/>
<rect x="612.83" y="1081.48" width="33.78" height="43.62" fill="#204465"/>
<rect x="645.61" y="1081.48" width="33.78" height="43.62" fill="#183450"/>
<rect x="678.39" y="1081.48" width="33.78" height="43.62" fill="#1a3956"/>
<rect x="711.18" y="1081.48" width="33.78" height="43.62" fill="#1d3e5d"/>
<rect x="743.96" y="1081.48" width="33.78" height="43.62" fill="#1a3956"/>
<rect x="776.74" y="1081.48" width="33.78" height="43.62" fill="#2a5980"/>
<rect x="809.53" y="1081.48" width="33.78" height="43.62" fill="#183450"/>
<rect x="842.31" y="1081.48" width="33.78" height="43.62" fill="#204465"/>
<rect x="875.09" y="1081.48" width="33.78" height="43.62" fill="#183450"/>
<rect x="907.87" y="1081.48" width="33.78" height="43.62" fill="#234a6d"/>
<rect x="940.66" y="1081.48" width="33.78" height="43.62" fill="#000000"/>
<rect x="973.44" y="1081.48" width="33.78" height="43.62" fill="#234a6d"/>
<rect x="1006.22" y="1081.48" width="33.78" height="43.62" fill="#183450"/>
<rect x="1039.01" y="1081.48" width="33.78" height="43.62" fill="#234a6d"/>
<rect x="1071.79" y="1081.48" width="33.78" height="43.62" fill="#153049"/>
<rect x="1104.57" y="1081.48" width="33.78" height="43.62" fill="#1a3956"/>
<rect x="1137.36" y="1081.48" width="66.57" height="43.62" fill="#183450"/>
<rect x="1202.92" y="1081.48" width="33.78" height="43.62" fill="#204465"/>
<rect x="1235.7" y="1081.48" width="66.57" height="43.62" fill="#1a3956"/>
<rect x="1301.27" y="1081.48" width="33.78" height="43.62" fill="#234a6d"/>
<rect x="1334.05" y="1081.48" width="33.78" height="43.62" fill="#183450"/>
<rect x="1366.84" y="1081.48" width="33.78" height="43.62" fill="#132b43"/>
<rect x="1399.62" y="1081.48" width="33.78" height="43.62" fill="#204465"/>
<rect x="1432.4" y="1081.48" width="33.78" height="43.62" fill="#153049"/>
<rect x="1465.19" y="1081.48" width="33.78" height="43.62" fill="#1a3956"/>
<rect x="1497.97" y="1081.48" width="33.78" height="43.62" fill="#204465"/>
<rect x="1530.75" y="1081.48" width="33.78" height="43.62" fill="#153049"/>
<rect x="1563.53" y="1081.48" width="33.78" height="43.62" fill="#132b43"/>
<rect x="1596.32" y="1081.48" width="32.78" height="43.62" fill="#1a3956"/>
<rect x="186.65" y="1124.11" width="33.78" height="43.62" fill="#1a3956"/>
<rect x="219.43" y="1124.11" width="33.78" height="43.62" fill="#204465"/>
<rect x="252.22" y="1124.11" width="66.57" height="43.62" fill="#1d3e5d"/>
<rect x="317.78" y="1124.11" width="33.78" height="43.62" fill="#204465"/>
<rect x="350.56" y="1124.11" width="99.35" height="43.62" fill="#1a3956"/>
<rect x="448.91" y="1124.11" width="33.78" height="43.62" fill="#183450"/>
<rect x="481.7" y="1124.11" width="33.78" height="43.62" fill="#204465"/>
<rect x="514.48" y="1124.11" width="33.78" height="43.62" fill="#1a3956"/>
<rect x="547.26" y="1124.11" width="33.78" height="43.62" fill="#183450"/>
<rect x="580.05" y="1124.11" width="33.78" height="43.62" fill="#000000"/>
<rect x="612.83" y="1124.11" width="33.78" height="43.62" fill="#204465"/>
<rect x="645.61" y="1124.11" width="33.78" height="43.62" fill="#1a3956"/>
<rect x="678.39" y="1124.11" width="33.78" height="43.62" fill="#204465"/>
<rect x="711.18" y="1124.11" width="33.78" height="43.62" fill="#1a3956"/>
<rect x="743.96" y="1124.11" width="33.78" height="43.62" fill="#183450"/>
<rect x="776.74" y="1124.11" width="33.78" height="43.62" fill="#265176"/>
<rect x="809.53" y="1124.11" width="33.78" height="43.62" fill="#1d3e5d"/>
<rect x="842.31" y="1124.11" width="33.78" height="43.62" fill="#204465"/>
<rect x="875.09" y="1124.11" width="33.78" height="43.62" fill="#1a3956"/>
<rect x="907.87" y="1124.11" width="33.78" height="43.62" fill="#204465"/>
<rect x="940.66" y="1124.11" width="33.78" height="43.62" fill="#132b43"/>
<rect x="973.44" y="1124.11" width="33.78" height="43.62" fill="#204465"/>
<rect x="1006.22" y="1124.11" width="33.78" height="43.62" fill="#1a3956"/>
<rect x="1039.01" y="1124.11" width="33.78" height="43.62" fill="#234a6d"/>
<rect x="1071.79" y="1124.11" width="33.78" height="43.62" fill="#153049"/>
<rect x="1104.57" y="1124.11" width="33.78" height="43.62" fill="#1a3956"/>
<rect x="1137.36" y="1124.11" width="33.78" height="43.62" fill="#153049"/>
<rect x="1170.14" y="1124.11" width="33.78" height="43.62" fill="#183450"/>
<rect x="1202.92" y="1124.11" width="66.57" height="43.62" fill="#1d3e5d"/>
<rect x="1268.49" y="1124.11" width="33.78" height="43.62" fill="#1a3956"/>
<rect x="1301.27" y="1124.11" width="33.78" height="43.62" fill="#234a6d"/>
<rect x="1334.05" y="1124.11" width="33.78" height="43.62" fill="#153049"/>
<rect x="1366.84" y="1124.11" width="33.78" height="43.62" fill="#132b43"/>
<rect x="1399.62" y="1124.11" width="33.78" height="43.62" fill="#1a3956"/>
<rect x="1432.4" y="1124.11" width="33.78" height="43.62" fill="#153049"/>
<rect x="1465.19" y="1124.11" width="33.78" height="43.62" fill="#1a3956"/>
<rect x="1497.97" y="1124.11" width="33.78" height="43.62" fill="#1d3e5d"/>
<rect x="1530.75" y="1124.11" width="33.78" height="43.62" fill="#1a3956"/>
<rect x="1563.53" y="1124.11" width="33.78" height="43.62" fill="#132b43"/>
<rect x="1596.32" y="1124.11" width="32.78" height="43.62" fill="#1d3e5d"/>
<rect x="186.65" y="1166.73" width="99.35" height="43.62" fill="#153049"/>
<rect x="285" y="1166.73" width="132.13" height="43.62" fill="#183450"/>
<rect x="416.13" y="1166.73" width="33.78" height="43.62" fill="#132b43"/>
<rect x="448.91" y="1166.73" width="33.78" height="43.62" fill="#153049"/>
<rect x="481.7" y="1166.73" width="99.35" height="43.62" fill="#183450"/>
<rect x="580.05" y="1166.73" width="33.78" height="43.62" fill="#000000"/>
<rect x="612.83" y="1166.73" width="33.78" height="43.62" fill="#1d3e5d"/>
<rect x="645.61" y="1166.73" width="33.78" height="43.62" fill="#153049"/>
<rect x="678.39" y="1166.73" width="66.57" height="43.62" fill="#183450"/>
<rect x="743.96" y="1166.73" width="33.78" height="43.62" fill="#153049"/>
<rect x="776.74" y="1166.73" width="33.78" height="43.62" fill="#1a3956"/>
<rect x="809.53" y="1166.73" width="33.78" height="43.62" fill="#153049"/>
<rect x="842.31" y="1166.73" width="33.78" height="43.62" fill="#1a3956"/>
<rect x="875.09" y="1166.73" width="33.78" height="43.62" fill="#183450"/>
<rect x="907.87" y="1166.73" width="33.78" height="43.62" fill="#204465"/>
<rect x="940.66" y="1166.73" width="33.78" height="43.62" fill="#000000"/>
<rect x="973.44" y="1166.73" width="33.78" height="43.62" fill="#234a6d"/>
<rect x="1006.22" y="1166.73" width="33.78" height="43.62" fill="#1a3956"/>
<rect x="1039.01" y="1166.73" width="33.78" height="43.62" fill="#2e618b"/>
<rect x="1071.79" y="1166.73" width="33.78" height="43.62" fill="#183450"/>
<rect x="1104.57" y="1166.73" width="33.78" height="43.62" fill="#1a3956"/>
<rect x="1137.36" y="1166.73" width="33.78" height="43.62" fill="#132b43"/>
<rect x="1170.14" y="1166.73" width="33.78" height="43.62" fill="#153049"/>
<rect x="1202.92" y="1166.73" width="33.78" height="43.62" fill="#1a3956"/>
<rect x="1235.7" y="1166.73" width="33.78" height="43.62" fill="#204465"/>
<rect x="1268.49" y="1166.73" width="33.78" height="43.62" fill="#1a3956"/>
<rect x="1301.27" y="1166.73" width="33.78" height="43.62" fill="#2e618b"/>
<rect x="1334.05" y="1166.73" width="33.78" height="43.62" fill="#153049"/>
<rect x="1366.84" y="1166.73" width="33.78" height="43.62" fill="#132b43"/>
<rect x="1399.62" y="1166.73" width="33.78" height="43.62" fill="#1a3956"/>
<rect x="1432.4" y="1166.73" width="33.78" height="43.62" fill="#183450"/>
<rect x="1465.19" y="1166.73" width="33.78" height="43.62" fill="#234a6d"/>
<rect x="1497.97" y="1166.73" width="33.78" height="43.62" fill="#2a5980"/>
<rect x="1530.75" y="1166.73" width="33.78" height="43.62" fill="#234a6d"/>
<rect x="1563.53" y="1166.73" width="33.78" height="43.62" fill="#204465"/>
<rect x="1596.32" y="1166.73" width="32.78" height="43.62" fill="#56b1f7"/>
<rect x="186.65" y="1209.35" width="33.78" height="43.62" fill="#000000"/>
<rect x="219.43" y="1209.35" width="66.57" height="43.62" fill="#1d3e5d"/>
<rect x="285" y="1209.35" width="33.78" height="43.62" fill="#000000"/>
<rect x="317.78" y="1209.35" width="33.78" height="43.62" fill="#1a3956"/>
<rect x="350.56" y="1209.35" width="33.78" height="43.62" fill="#000000"/>
<rect x="383.35" y="1209.35" width="66.57" height="43.62" fill="#1a3956"/>
<rect x="448.91" y="1209.35" width="33.78" height="43.62" fill="#1d3e5d"/>
<rect x="481.7" y="1209.35" width="33.78" height="43.62" fill="#000000"/>
<rect x="514.48" y="1209.35" width="66.57" height="43.62" fill="#1a3956"/>
<rect x="580.05" y="1209.35" width="33.78" height="43.62" fill="#000000"/>
<rect x="612.83" y="1209.35" width="33.78" height="43.62" fill="#204465"/>
<rect x="645.61" y="1209.35" width="33.78" height="43.62" fill="#000000"/>
<rect x="678.39" y="1209.35" width="33.78" height="43.62" fill="#183450"/>
<rect x="711.18" y="1209.35" width="33.78" height="43.62" fill="#204465"/>
<rect x="743.96" y="1209.35" width="33.78" height="43.62" fill="#234a6d"/>
<rect x="776.74" y="1209.35" width="33.78" height="43.62" fill="#1a3956"/>
<rect x="809.53" y="1209.35" width="33.78" height="43.62" fill="#2e618b"/>
<rect x="842.31" y="1209.35" width="66.57" height="43.62" fill="#204465"/>
<rect x="907.87" y="1209.35" width="33.78" height="43.62" fill="#183450"/>
<rect x="940.66" y="1209.35" width="33.78" height="43.62" fill="#000000"/>
<rect x="973.44" y="1209.35" width="66.57" height="43.62" fill="#1d3e5d"/>
<rect x="1039.01" y="1209.35" width="33.78" height="43.62" fill="#234a6d"/>
<rect x="1071.79" y="1209.35" width="66.57" height="43.62" fill="#1d3e5d"/>
<rect x="1137.36" y="1209.35" width="66.57" height="43.62" fill="#000000"/>
<rect x="1202.92" y="1209.35" width="33.78" height="43.62" fill="#204465"/>
<rect x="1235.7" y="1209.35" width="33.78" height="43.62" fill="#234a6d"/>
<rect x="1268.49" y="1209.35" width="33.78" height="43.62" fill="#204465"/>
<rect x="1301.27" y="1209.35" width="33.78" height="43.62" fill="#326a98"/>
<rect x="1334.05" y="1209.35" width="66.57" height="43.62" fill="#1d3e5d"/>
<rect x="1399.62" y="1209.35" width="99.35" height="43.62" fill="#204465"/>
<rect x="1497.97" y="1209.35" width="33.78" height="43.62" fill="#265176"/>
<rect x="1530.75" y="1209.35" width="33.78" height="43.62" fill="#183450"/>
<rect x="1563.53" y="1209.35" width="65.57" height="43.62" fill="#1a3956"/>
<rect x="186.65" y="1251.98" width="99.35" height="42.62" fill="#000000"/>
<rect x="285" y="1251.98" width="33.78" height="42.62" fill="#4b9ad8"/>
<rect x="317.78" y="1251.98" width="164.91" height="42.62" fill="#000000"/>
<rect x="481.7" y="1251.98" width="33.78" height="42.62" fill="#4b9ad8"/>
<rect x="514.48" y="1251.98" width="99.35" height="42.62" fill="#000000"/>
<rect x="612.83" y="1251.98" width="33.78" height="42.62" fill="#4b9ad8"/>
<rect x="645.61" y="1251.98" width="66.57" height="42.62" fill="#000000"/>
<rect x="711.18" y="1251.98" width="99.35" height="42.62" fill="#4b9ad8"/>
<rect x="809.53" y="1251.98" width="230.48" height="42.62" fill="#000000"/>
<rect x="1039.01" y="1251.98" width="33.78" height="42.62" fill="#4b9ad8"/>
<rect x="1071.79" y="1251.98" width="525.53" height="42.62" fill="#000000"/>
<rect x="1596.32" y="1251.98" width="32.78" height="42.62" fill="#4b9ad8"/>
<text class="yl" x="174.2" y="769.01">Treg_TRA</text>
<text class="yl" x="174.2" y="811.63">Treg(diff)_TRA</text>
<text class="yl" x="174.2" y="854.26">T(agonist)_TRA</text>
<text class="yl" x="174.2" y="896.88">NKT_TRA</text>
<text class="yl" x="174.2" y="939.5">CD8+ SP_TRA</text>
<text class="yl" x="174.2" y="982.13">CD4+ SP_TRA</text>
<text class="yl" x="174.2" y="1024.75">CD8aa(II)_TRA</text>
<text class="yl" x="174.2" y="1067.37">CD8aa(I)_TRA</text>
<text class="yl" x="174.2" y="1110">abT(entry)_TRA</text>
<text class="yl" x="174.2" y="1152.62">DP(Q)_TRA</text>
<text class="yl" x="174.2" y="1195.24">DP(P)_TRA</text>
<text class="yl" x="174.2" y="1237.87">DN(Q)_TRA</text>
<text class="yl" x="174.2" y="1280.49">DN(P)_TRA</text>
<text class="xl" transform="translate(207.64 1308.7) rotate(-90) scale(0.93 1)">TRAV1-1</text>
<text class="xl" transform="translate(240.42 1308.7) rotate(-90) scale(0.93 1)">TRAV1-2</text>
<text class="xl" transform="translate(273.21 1308.7) rotate(-90) scale(0.93 1)">TRAV2</text>
<text class="xl" transform="translate(305.99 1308.7) rotate(-90) scale(0.93 1)">TRAV3</text>
<text class="xl" transform="translate(338.77 1308.7) rotate(-90) scale(0.93 1)">TRAV4</text>
<text class="xl" transform="translate(371.56 1308.7) rotate(-90) scale(0.93 1)">TRAV5</text>
<text class="xl" transform="translate(404.34 1308.7) rotate(-90) scale(0.93 1)">TRAV6</text>
<text class="xl" transform="translate(437.12 1308.7) rotate(-90) scale(0.93 1)">TRAV8-1</text>
<text class="xl" transform="translate(469.91 1308.7) rotate(-90) scale(0.93 1)">TRAV8-2</text>
<text class="xl" transform="translate(502.69 1308.7) rotate(-90) scale(0.93 1)">TRAV8-3</text>
<text class="xl" transform="translate(535.47 1308.7) rotate(-90) scale(0.93 1)">TRAV8-4</text>
<text class="xl" transform="translate(568.25 1308.7) rotate(-90) scale(0.93 1)">TRAV8-6</text>
<text class="xl" transform="translate(601.04 1308.7) rotate(-90) scale(0.93 1)">TRAV9-1</text>
<text class="xl" transform="translate(633.82 1308.7) rotate(-90) scale(0.93 1)">TRAV9-2</text>
<text class="xl" transform="translate(666.6 1308.7) rotate(-90) scale(0.93 1)">TRAV10</text>
<text class="xl" transform="translate(699.39 1308.7) rotate(-90) scale(0.93 1)">TRAV12-1</text>
<text class="xl" transform="translate(732.17 1308.7) rotate(-90) scale(0.93 1)">TRAV12-2</text>
<text class="xl" transform="translate(764.95 1308.7) rotate(-90) scale(0.93 1)">TRAV12-3</text>
<text class="xl" transform="translate(797.73 1308.7) rotate(-90) scale(0.93 1)">TRAV13-1</text>
<text class="xl" transform="translate(830.52 1308.7) rotate(-90) scale(0.93 1)">TRAV13-2</text>
<text class="xl" transform="translate(863.3 1308.7) rotate(-90) scale(0.93 1)">TRAV14/DV4</text>
<text class="xl" transform="translate(896.08 1308.7) rotate(-90) scale(0.93 1)">TRAV16</text>
<text class="xl" transform="translate(928.87 1308.7) rotate(-90) scale(0.93 1)">TRAV17</text>
<text class="xl" transform="translate(961.65 1308.7) rotate(-90) scale(0.93 1)">TRAV18</text>
<text class="xl" transform="translate(994.43 1308.7) rotate(-90) scale(0.93 1)">TRAV19</text>
<text class="xl" transform="translate(1027.22 1308.7) rotate(-90) scale(0.93 1)">TRAV20</text>
<text class="xl" transform="translate(1060 1308.7) rotate(-90) scale(0.93 1)">TRAV21</text>
<text class="xl" transform="translate(1092.78 1308.7) rotate(-90) scale(0.93 1)">TRAV22</text>
<text class="xl" transform="translate(1125.56 1308.7) rotate(-90) scale(0.93 1)">TRAV23/DV6</text>
<text class="xl" transform="translate(1158.35 1308.7) rotate(-90) scale(0.93 1)">TRAV24</text>
<text class="xl" transform="translate(1191.13 1308.7) rotate(-90) scale(0.93 1)">TRAV25</text>
<text class="xl" transform="translate(1223.91 1308.7) rotate(-90) scale(0.93 1)">TRAV26-1</text>
<text class="xl" transform="translate(1256.7 1308.7) rotate(-90) scale(0.93 1)">TRAV26-2</text>
<text class="xl" transform="translate(1289.48 1308.7) rotate(-90) scale(0.93 1)">TRAV27</text>
<text class="xl" transform="translate(1322.26 1308.7) rotate(-90) scale(0.93 1)">TRAV29/DV5</text>
<text class="xl" transform="translate(1355.04 1308.7) rotate(-90) scale(0.93 1)">TRAV30</text>
<text class="xl" transform="translate(1387.83 1308.7) rotate(-90) scale(0.93 1)">TRAV34</text>
<text class="xl" transform="translate(1420.61 1308.7) rotate(-90) scale(0.93 1)">TRAV35</text>
<text class="xl" transform="translate(1453.39 1308.7) rotate(-90) scale(0.93 1)">TRAV36/DV7</text>
<text class="xl" transform="translate(1486.18 1308.7) rotate(-90) scale(0.93 1)">TRAV38-1</text>
<text class="xl" transform="translate(1518.96 1308.7) rotate(-90) scale(0.93 1)">TRAV38-2/DV8</text>
<text class="xl" transform="translate(1551.74 1308.7) rotate(-90) scale(0.93 1)">TRAV39</text>
<text class="xl" transform="translate(1584.53 1308.7) rotate(-90) scale(0.93 1)">TRAV40</text>
<text class="xl" transform="translate(1617.31 1308.7) rotate(-90) scale(0.93 1)">TRAV41</text>
<path d="M178.7 761.81H183M178.7 804.43H183M178.7 847.06H183M178.7 889.68H183M178.7 932.3H183M178.7 974.93H183M178.7 1017.55H183M178.7 1060.17H183M178.7 1102.8H183M178.7 1145.42H183M178.7 1188.04H183M178.7 1230.67H183M178.7 1273.29H183M203.04 1299.2V1303.7M235.82 1299.2V1303.7M268.61 1299.2V1303.7M301.39 1299.2V1303.7M334.17 1299.2V1303.7M366.96 1299.2V1303.7M399.74 1299.2V1303.7M432.52 1299.2V1303.7M465.31 1299.2V1303.7M498.09 1299.2V1303.7M530.87 1299.2V1303.7M563.65 1299.2V1303.7M596.44 1299.2V1303.7M629.22 1299.2V1303.7M662 1299.2V1303.7M694.79 1299.2V1303.7M727.57 1299.2V1303.7M760.35 1299.2V1303.7M793.13 1299.2V1303.7M825.92 1299.2V1303.7M858.7 1299.2V1303.7M891.48 1299.2V1303.7M924.27 1299.2V1303.7M957.05 1299.2V1303.7M989.83 1299.2V1303.7M1022.62 1299.2V1303.7M1055.4 1299.2V1303.7M1088.18 1299.2V1303.7M1120.96 1299.2V1303.7M1153.75 1299.2V1303.7M1186.53 1299.2V1303.7M1219.31 1299.2V1303.7M1252.1 1299.2V1303.7M1284.88 1299.2V1303.7M1317.66 1299.2V1303.7M1350.44 1299.2V1303.7M1383.23 1299.2V1303.7M1416.01 1299.2V1303.7M1448.79 1299.2V1303.7M1481.58 1299.2V1303.7M1514.36 1299.2V1303.7M1547.14 1299.2V1303.7M1579.93 1299.2V1303.7M1612.71 1299.2V1303.7" stroke="#333333" stroke-width="1.7" fill="none"/>
</g>
<defs><linearGradient id="g257" x1="0" y1="0" x2="0" y2="1"><stop offset="0" stop-color="#56b1f7"/><stop offset="1" stop-color="#132b43"/></linearGradient></defs>
<rect x="1656.8" y="257.1" width="47" height="232.9" fill="url(#g257)"/>
<text class="lt" x="1656.3" y="242">gu_prop</text>
<text class="ll" x="1716" y="264.5">0.125</text>
<text class="ll" x="1716" y="310.6">0.100</text>
<text class="ll" x="1716" y="357.3">0.075</text>
<text class="ll" x="1716" y="403.9">0.050</text>
<text class="ll" x="1716" y="450.6">0.025</text>
<path d="M1656.8 257.6h9.4M1703.8 257.6h-9.4M1656.8 303.7h9.4M1703.8 303.7h-9.4M1656.8 350.4h9.4M1703.8 350.4h-9.4M1656.8 397h9.4M1703.8 397h-9.4M1656.8 443.7h9.4M1703.8 443.7h-9.4" stroke="#ffffff" stroke-opacity="0.7" stroke-width="1.3" fill="none"/>
<defs><linearGradient id="g917" x1="0" y1="0" x2="0" y2="1"><stop offset="0" stop-color="#56b1f7"/><stop offset="1" stop-color="#132b43"/></linearGradient></defs>
<rect x="1659.6" y="917.9" width="46.6" height="233.1" fill="url(#g917)"/>
<text class="lt" x="1659.1" y="903.1">gu_prop</text>
<text class="ll" x="1718.6" y="928.4">0.15</text>
<text class="ll" x="1718.6" y="1004.7">0.10</text>
<text class="ll" x="1718.6" y="1081.7">0.05</text>
<path d="M1659.6 921.5h9.4M1706.2 921.5h-9.4M1659.6 997.8h9.4M1706.2 997.8h-9.4M1659.6 1074.8h9.4M1706.2 1074.8h-9.4" stroke="#ffffff" stroke-opacity="0.7" stroke-width="1.3" fill="none"/>
<text x="44.2" y="1456.2" style="font-weight:bold;font-size:44.7px;stroke:#000;stroke-width:0.6px">B</text>
<text class="ti" style="font-size:32.9px" transform="translate(194.7 1452.6) scale(0.9733 1)" xml:space="preserve"><tspan font-style="italic">TRA</tspan> and <tspan font-style="italic">TRB</tspan> CDR3 amino acid length among thymocyte groups</text>
<g>
<path d="M195.3 1829.3H1338M195.3 1715.65H1338M195.3 1602H1338" stroke="#b2b2b2" stroke-width="2.6" stroke-dasharray="13.9 14.2" fill="none"/>
<rect x="404.21" y="1828.69" width="10.39" height="0.61" fill="#1b9e77" stroke="#000" stroke-width="2.1"/>
<rect x="414.6" y="1826.76" width="10.39" height="2.54" fill="#d95f02" stroke="#000" stroke-width="2.1"/>
<rect x="425" y="1828.69" width="10.39" height="0.61" fill="#7570b3" stroke="#000" stroke-width="2.1"/>
<rect x="438.85" y="1828.46" width="10.39" height="0.84" fill="#1b9e77" stroke="#000" stroke-width="2.1"/>
<rect x="449.24" y="1828.46" width="10.39" height="0.84" fill="#d95f02" stroke="#000" stroke-width="2.1"/>
<rect x="459.64" y="1828.69" width="10.39" height="0.61" fill="#7570b3" stroke="#000" stroke-width="2.1"/>
<rect x="473.49" y="1828.69" width="10.39" height="0.61" fill="#1b9e77" stroke="#000" stroke-width="2.1"/>
<rect x="483.88" y="1826.76" width="10.39" height="2.54" fill="#d95f02" stroke="#000" stroke-width="2.1"/>
<rect x="494.28" y="1828.24" width="10.39" height="1.06" fill="#7570b3" stroke="#000" stroke-width="2.1"/>
<rect x="508.13" y="1828.46" width="10.39" height="0.84" fill="#1b9e77" stroke="#000" stroke-width="2.1"/>
<rect x="518.52" y="1824.14" width="10.39" height="5.16" fill="#d95f02" stroke="#000" stroke-width="2.1"/>
<rect x="528.92" y="1827.33" width="10.39" height="1.97" fill="#7570b3" stroke="#000" stroke-width="2.1"/>
<rect x="542.77" y="1827.9" width="10.39" height="1.4" fill="#1b9e77" stroke="#000" stroke-width="2.1"/>
<rect x="553.16" y="1819.83" width="10.39" height="9.47" fill="#d95f02" stroke="#000" stroke-width="2.1"/>
<rect x="563.56" y="1823.35" width="10.39" height="5.95" fill="#7570b3" stroke="#000" stroke-width="2.1"/>
<rect x="577.41" y="1818.8" width="10.39" height="10.5" fill="#1b9e77" stroke="#000" stroke-width="2.1"/>
<rect x="587.8" y="1807.78" width="10.39" height="21.52" fill="#d95f02" stroke="#000" stroke-width="2.1"/>
<rect x="598.2" y="1796.98" width="10.39" height="32.32" fill="#7570b3" stroke="#000" stroke-width="2.1"/>
<rect x="612.05" y="1801.3" width="10.39" height="28" fill="#1b9e77" stroke="#000" stroke-width="2.1"/>
<rect x="622.44" y="1788.8" width="10.39" height="40.5" fill="#d95f02" stroke="#000" stroke-width="2.1"/>
<rect x="632.84" y="1744.82" width="10.39" height="84.48" fill="#7570b3" stroke="#000" stroke-width="2.1"/>
<rect x="646.69" y="1764.25" width="10.39" height="65.05" fill="#1b9e77" stroke="#000" stroke-width="2.1"/>
<rect x="657.08" y="1737.54" width="10.39" height="91.76" fill="#d95f02" stroke="#000" stroke-width="2.1"/>
<rect x="667.48" y="1649.24" width="10.39" height="180.06" fill="#7570b3" stroke="#000" stroke-width="2.1"/>
<rect x="681.33" y="1723.56" width="10.39" height="105.74" fill="#1b9e77" stroke="#000" stroke-width="2.1"/>
<rect x="691.72" y="1699.24" width="10.39" height="130.06" fill="#d95f02" stroke="#000" stroke-width="2.1"/>
<rect x="702.12" y="1533.2" width="10.39" height="296.1" fill="#7570b3" stroke="#000" stroke-width="2.1"/>
<rect x="715.97" y="1727.54" width="10.39" height="101.76" fill="#1b9e77" stroke="#000" stroke-width="2.1"/>
<rect x="726.36" y="1678.1" width="10.39" height="151.2" fill="#d95f02" stroke="#000" stroke-width="2.1"/>
<rect x="736.76" y="1516.49" width="10.39" height="312.81" fill="#7570b3" stroke="#000" stroke-width="2.1"/>
<rect x="750.61" y="1759.14" width="10.39" height="70.16" fill="#1b9e77" stroke="#000" stroke-width="2.1"/>
<rect x="761" y="1702.77" width="10.39" height="126.53" fill="#d95f02" stroke="#000" stroke-width="2.1"/>
<rect x="771.4" y="1607.98" width="10.39" height="221.32" fill="#7570b3" stroke="#000" stroke-width="2.1"/>
<rect x="785.25" y="1789.94" width="10.39" height="39.36" fill="#1b9e77" stroke="#000" stroke-width="2.1"/>
<rect x="795.64" y="1748.34" width="10.39" height="80.96" fill="#d95f02" stroke="#000" stroke-width="2.1"/>
<rect x="806.04" y="1706.52" width="10.39" height="122.78" fill="#7570b3" stroke="#000" stroke-width="2.1"/>
<rect x="819.89" y="1813.92" width="10.39" height="15.38" fill="#1b9e77" stroke="#000" stroke-width="2.1"/>
<rect x="830.28" y="1784.82" width="10.39" height="44.48" fill="#d95f02" stroke="#000" stroke-width="2.1"/>
<rect x="840.68" y="1773.46" width="10.39" height="55.84" fill="#7570b3" stroke="#000" stroke-width="2.1"/>
<rect x="854.53" y="1821.99" width="10.39" height="7.31" fill="#1b9e77" stroke="#000" stroke-width="2.1"/>
<rect x="864.92" y="1808.01" width="10.39" height="21.29" fill="#d95f02" stroke="#000" stroke-width="2.1"/>
<rect x="875.32" y="1809.37" width="10.39" height="19.93" fill="#7570b3" stroke="#000" stroke-width="2.1"/>
<rect x="889.17" y="1826.87" width="10.39" height="2.43" fill="#1b9e77" stroke="#000" stroke-width="2.1"/>
<rect x="899.56" y="1817.44" width="10.39" height="11.86" fill="#d95f02" stroke="#000" stroke-width="2.1"/>
<rect x="909.96" y="1823.69" width="10.39" height="5.61" fill="#7570b3" stroke="#000" stroke-width="2.1"/>
<rect x="923.81" y="1828.24" width="10.39" height="1.06" fill="#1b9e77" stroke="#000" stroke-width="2.1"/>
<rect x="934.2" y="1824.71" width="10.39" height="4.59" fill="#d95f02" stroke="#000" stroke-width="2.1"/>
<rect x="944.6" y="1827.55" width="10.39" height="1.75" fill="#7570b3" stroke="#000" stroke-width="2.1"/>
<rect x="958.45" y="1828.92" width="10.39" height="0.38" fill="#1b9e77" stroke="#000" stroke-width="2.1"/>
<rect x="968.84" y="1826.42" width="10.39" height="2.88" fill="#d95f02" stroke="#000" stroke-width="2.1"/>
<rect x="979.24" y="1828.69" width="10.39" height="0.61" fill="#7570b3" stroke="#000" stroke-width="2.1"/>
<rect x="993.09" y="1829.03" width="10.39" height="0.27" fill="#1b9e77" stroke="#000" stroke-width="2.1"/>
<rect x="1003.48" y="1826.87" width="10.39" height="2.43" fill="#d95f02" stroke="#000" stroke-width="2.1"/>
<rect x="1013.88" y="1828.92" width="10.39" height="0.38" fill="#7570b3" stroke="#000" stroke-width="2.1"/>
<rect x="1027.73" y="1827.9" width="10.39" height="1.4" fill="#1b9e77" stroke="#000" stroke-width="2.1"/>
<rect x="1038.12" y="1827.9" width="10.39" height="1.4" fill="#d95f02" stroke="#000" stroke-width="2.1"/>
<rect x="1048.52" y="1829.03" width="10.39" height="0.27" fill="#7570b3" stroke="#000" stroke-width="2.1"/>
<rect x="1062.37" y="1829.03" width="10.39" height="0.27" fill="#1b9e77" stroke="#000" stroke-width="2.1"/>
<rect x="1072.76" y="1827.55" width="10.39" height="1.75" fill="#d95f02" stroke="#000" stroke-width="2.1"/>
<rect x="1083.16" y="1829.03" width="10.39" height="0.27" fill="#7570b3" stroke="#000" stroke-width="2.1"/>
<rect x="1097.01" y="1829.15" width="10.39" height="0.15" fill="#1b9e77" stroke="#000" stroke-width="2.1"/>
<rect x="1107.4" y="1829.15" width="10.39" height="0.15" fill="#d95f02" stroke="#000" stroke-width="2.1"/>
<rect x="1117.8" y="1829.15" width="10.39" height="0.15" fill="#7570b3" stroke="#000" stroke-width="2.1"/>
<rect x="1131.65" y="1829.15" width="10.39" height="0.15" fill="#1b9e77" stroke="#000" stroke-width="2.1"/>
<rect x="1142.04" y="1829.15" width="10.39" height="0.15" fill="#d95f02" stroke="#000" stroke-width="2.1"/>
<rect x="1152.44" y="1829.15" width="10.39" height="0.15" fill="#7570b3" stroke="#000" stroke-width="2.1"/>
<rect x="1166.29" y="1829.15" width="10.39" height="0.15" fill="#1b9e77" stroke="#000" stroke-width="2.1"/>
<rect x="1176.68" y="1829.15" width="10.39" height="0.15" fill="#d95f02" stroke="#000" stroke-width="2.1"/>
<rect x="1187.08" y="1829.15" width="10.39" height="0.15" fill="#7570b3" stroke="#000" stroke-width="2.1"/>
<rect x="1200.93" y="1829.15" width="10.39" height="0.15" fill="#1b9e77" stroke="#000" stroke-width="2.1"/>
<rect x="1211.32" y="1829.15" width="10.39" height="0.15" fill="#d95f02" stroke="#000" stroke-width="2.1"/>
<rect x="1221.72" y="1829.15" width="10.39" height="0.15" fill="#7570b3" stroke="#000" stroke-width="2.1"/>
<path d="M721.6 1845.8V1501.3" stroke="#1b9e77" stroke-width="2" stroke-dasharray="12.9 13" fill="none"/>
<path d="M723 1845.8V1501.3" stroke="#7570b3" stroke-width="1.6" stroke-dasharray="12.9 13" fill="none"/>
<path d="M733.5 1845.8V1501.3" stroke="#d95f02" stroke-width="2" stroke-dasharray="12.9 13" fill="none"/>
<path d="M194.3 1501V1845H1338" stroke="#000" stroke-width="2.4" fill="none"/>
<text class="tk" text-anchor="end" transform="translate(181.1 1839.15) scale(0.895 1)">0</text>
<text class="tk" text-anchor="end" transform="translate(181.1 1725.5) scale(0.895 1)">1000</text>
<text class="tk" text-anchor="end" transform="translate(181.1 1611.85) scale(0.895 1)">2000</text>
<text class="tk" text-anchor="end" transform="translate(257 1856.3) rotate(-90) scale(0.885 1)">0</text>
<text class="tk" text-anchor="end" transform="translate(603.4 1856.3) rotate(-90) scale(0.885 1)">10</text>
<text class="tk" text-anchor="end" transform="translate(949.8 1856.3) rotate(-90) scale(0.885 1)">20</text>
<text class="tk" text-anchor="end" transform="translate(1296.2 1856.3) rotate(-90) scale(0.885 1)">30</text>
<path d="M194.3 1829.3h-6.8M194.3 1715.65h-6.8M194.3 1602h-6.8M246.6 1845v6.9M593 1845v6.9M939.4 1845v6.9M1285.8 1845v6.9" stroke="#000" stroke-width="2" fill="none"/>
<text transform="translate(230.7 1566.1) scale(0.96 1)" style="font-style:italic;font-size:33.6px">TRA</text>
</g>
<g>
<path d="M200.5 2227.6H1341.5M200.5 2143.9H1341.5M200.5 2060.2H1341.5M200.5 1976.5H1341.5" stroke="#b2b2b2" stroke-width="2.6" stroke-dasharray="13.9 14.2" fill="none"/>
<rect x="477.8" y="2227.65" width="10.38" height="0.1" fill="#1b9e77" stroke="#000" stroke-width="2.1"/>
<rect x="488.18" y="2227.65" width="10.38" height="0.1" fill="#d95f02" stroke="#000" stroke-width="2.1"/>
<rect x="498.56" y="2227.65" width="10.38" height="0.1" fill="#7570b3" stroke="#000" stroke-width="2.1"/>
<rect x="512.41" y="2227.57" width="10.38" height="0.1" fill="#1b9e77" stroke="#000" stroke-width="2.1"/>
<rect x="522.79" y="2227.4" width="10.38" height="0.2" fill="#d95f02" stroke="#000" stroke-width="2.1"/>
<rect x="533.17" y="2227.57" width="10.38" height="0.1" fill="#7570b3" stroke="#000" stroke-width="2.1"/>
<rect x="547.02" y="2227.48" width="10.38" height="0.12" fill="#1b9e77" stroke="#000" stroke-width="2.1"/>
<rect x="557.4" y="2227.06" width="10.38" height="0.54" fill="#d95f02" stroke="#000" stroke-width="2.1"/>
<rect x="567.78" y="2227.23" width="10.38" height="0.37" fill="#7570b3" stroke="#000" stroke-width="2.1"/>
<rect x="581.63" y="2225.22" width="10.38" height="2.38" fill="#1b9e77" stroke="#000" stroke-width="2.1"/>
<rect x="592.01" y="2220.03" width="10.38" height="7.57" fill="#d95f02" stroke="#000" stroke-width="2.1"/>
<rect x="602.39" y="2221.71" width="10.38" height="5.89" fill="#7570b3" stroke="#000" stroke-width="2.1"/>
<rect x="616.24" y="2216.27" width="10.38" height="11.33" fill="#1b9e77" stroke="#000" stroke-width="2.1"/>
<rect x="626.62" y="2194.67" width="10.38" height="32.93" fill="#d95f02" stroke="#000" stroke-width="2.1"/>
<rect x="637" y="2191.49" width="10.38" height="36.11" fill="#7570b3" stroke="#000" stroke-width="2.1"/>
<rect x="650.85" y="2197.94" width="10.38" height="29.66" fill="#1b9e77" stroke="#000" stroke-width="2.1"/>
<rect x="661.23" y="2150.64" width="10.38" height="76.96" fill="#d95f02" stroke="#000" stroke-width="2.1"/>
<rect x="671.61" y="2143.11" width="10.38" height="84.49" fill="#7570b3" stroke="#000" stroke-width="2.1"/>
<rect x="685.46" y="2168.47" width="10.38" height="59.13" fill="#1b9e77" stroke="#000" stroke-width="2.1"/>
<rect x="695.84" y="2072.89" width="10.38" height="154.71" fill="#d95f02" stroke="#000" stroke-width="2.1"/>
<rect x="706.22" y="2060.25" width="10.38" height="167.35" fill="#7570b3" stroke="#000" stroke-width="2.1"/>
<rect x="720.07" y="2148.8" width="10.38" height="78.8" fill="#1b9e77" stroke="#000" stroke-width="2.1"/>
<rect x="730.45" y="1973.03" width="10.38" height="254.57" fill="#d95f02" stroke="#000" stroke-width="2.1"/>
<rect x="740.83" y="1985.67" width="10.38" height="241.93" fill="#7570b3" stroke="#000" stroke-width="2.1"/>
<rect x="754.68" y="2151.23" width="10.38" height="76.37" fill="#1b9e77" stroke="#000" stroke-width="2.1"/>
<rect x="765.06" y="1915.53" width="10.38" height="312.07" fill="#d95f02" stroke="#000" stroke-width="2.1"/>
<rect x="775.44" y="1964.66" width="10.38" height="262.94" fill="#7570b3" stroke="#000" stroke-width="2.1"/>
<rect x="789.29" y="2178.18" width="10.38" height="49.42" fill="#1b9e77" stroke="#000" stroke-width="2.1"/>
<rect x="799.67" y="1939.3" width="10.38" height="288.3" fill="#d95f02" stroke="#000" stroke-width="2.1"/>
<rect x="810.05" y="2057.57" width="10.38" height="170.03" fill="#7570b3" stroke="#000" stroke-width="2.1"/>
<rect x="823.9" y="2196.85" width="10.38" height="30.75" fill="#1b9e77" stroke="#000" stroke-width="2.1"/>
<rect x="834.28" y="2023.5" width="10.38" height="204.1" fill="#d95f02" stroke="#000" stroke-width="2.1"/>
<rect x="844.66" y="2130.39" width="10.38" height="97.21" fill="#7570b3" stroke="#000" stroke-width="2.1"/>
<rect x="858.51" y="2214.68" width="10.38" height="12.92" fill="#1b9e77" stroke="#000" stroke-width="2.1"/>
<rect x="868.89" y="2097.75" width="10.38" height="129.85" fill="#d95f02" stroke="#000" stroke-width="2.1"/>
<rect x="879.27" y="2177.68" width="10.38" height="49.92" fill="#7570b3" stroke="#000" stroke-width="2.1"/>
<rect x="893.12" y="2222.21" width="10.38" height="5.39" fill="#1b9e77" stroke="#000" stroke-width="2.1"/>
<rect x="903.5" y="2155.25" width="10.38" height="72.35" fill="#d95f02" stroke="#000" stroke-width="2.1"/>
<rect x="913.88" y="2206.05" width="10.38" height="21.55" fill="#7570b3" stroke="#000" stroke-width="2.1"/>
<rect x="927.73" y="2224.97" width="10.38" height="2.63" fill="#1b9e77" stroke="#000" stroke-width="2.1"/>
<rect x="938.11" y="2187.14" width="10.38" height="40.46" fill="#d95f02" stroke="#000" stroke-width="2.1"/>
<rect x="948.49" y="2217.94" width="10.38" height="9.66" fill="#7570b3" stroke="#000" stroke-width="2.1"/>
<rect x="962.34" y="2226.9" width="10.38" height="0.7" fill="#1b9e77" stroke="#000" stroke-width="2.1"/>
<rect x="972.72" y="2214.09" width="10.38" height="13.51" fill="#d95f02" stroke="#000" stroke-width="2.1"/>
<rect x="983.1" y="2223.3" width="10.38" height="4.3" fill="#7570b3" stroke="#000" stroke-width="2.1"/>
<rect x="996.95" y="2227.23" width="10.38" height="0.37" fill="#1b9e77" stroke="#000" stroke-width="2.1"/>
<rect x="1007.33" y="2225.81" width="10.38" height="1.79" fill="#d95f02" stroke="#000" stroke-width="2.1"/>
<rect x="1017.71" y="2226.64" width="10.38" height="0.96" fill="#7570b3" stroke="#000" stroke-width="2.1"/>
<rect x="1031.56" y="2227.48" width="10.38" height="0.12" fill="#1b9e77" stroke="#000" stroke-width="2.1"/>
<rect x="1041.94" y="2226.64" width="10.38" height="0.96" fill="#d95f02" stroke="#000" stroke-width="2.1"/>
<rect x="1052.32" y="2227.4" width="10.38" height="0.2" fill="#7570b3" stroke="#000" stroke-width="2.1"/>
<rect x="1066.17" y="2227.65" width="10.38" height="0.1" fill="#1b9e77" stroke="#000" stroke-width="2.1"/>
<rect x="1076.55" y="2227.65" width="10.38" height="0.1" fill="#d95f02" stroke="#000" stroke-width="2.1"/>
<rect x="1086.93" y="2227.65" width="10.38" height="0.1" fill="#7570b3" stroke="#000" stroke-width="2.1"/>
<rect x="1100.78" y="2227.65" width="10.38" height="0.1" fill="#1b9e77" stroke="#000" stroke-width="2.1"/>
<rect x="1111.16" y="2227.65" width="10.38" height="0.1" fill="#d95f02" stroke="#000" stroke-width="2.1"/>
<rect x="1121.54" y="2227.65" width="10.38" height="0.1" fill="#7570b3" stroke="#000" stroke-width="2.1"/>
<rect x="1135.39" y="2227.65" width="10.38" height="0.1" fill="#1b9e77" stroke="#000" stroke-width="2.1"/>
<rect x="1145.77" y="2227.65" width="10.38" height="0.1" fill="#d95f02" stroke="#000" stroke-width="2.1"/>
<rect x="1156.15" y="2227.65" width="10.38" height="0.1" fill="#7570b3" stroke="#000" stroke-width="2.1"/>
<rect x="1170" y="2227.65" width="10.38" height="0.1" fill="#1b9e77" stroke="#000" stroke-width="2.1"/>
<rect x="1180.38" y="2227.65" width="10.38" height="0.1" fill="#d95f02" stroke="#000" stroke-width="2.1"/>
<rect x="1190.76" y="2227.65" width="10.38" height="0.1" fill="#7570b3" stroke="#000" stroke-width="2.1"/>
<rect x="1204.61" y="2227.65" width="10.38" height="0.1" fill="#1b9e77" stroke="#000" stroke-width="2.1"/>
<rect x="1214.99" y="2227.65" width="10.38" height="0.1" fill="#d95f02" stroke="#000" stroke-width="2.1"/>
<rect x="1225.37" y="2227.65" width="10.38" height="0.1" fill="#7570b3" stroke="#000" stroke-width="2.1"/>
<path d="M756.4 2244V1899.8" stroke="#1b9e77" stroke-width="2" stroke-dasharray="12.9 13" fill="none"/>
<path d="M760.7 2244V1899.8" stroke="#7570b3" stroke-width="2" stroke-dasharray="12.9 13" fill="none"/>
<path d="M785.8 2244V1899.8" stroke="#d95f02" stroke-width="2" stroke-dasharray="12.9 13" fill="none"/>
<path d="M199.5 1899.5V2243.2H1341.5" stroke="#000" stroke-width="2.4" fill="none"/>
<text class="tk" text-anchor="end" transform="translate(186.2 2237.45) scale(0.895 1)">0</text>
<text class="tk" text-anchor="end" transform="translate(186.2 2153.75) scale(0.895 1)">1000</text>
<text class="tk" text-anchor="end" transform="translate(186.2 2070.05) scale(0.895 1)">2000</text>
<text class="tk" text-anchor="end" transform="translate(186.2 1986.35) scale(0.895 1)">3000</text>
<text class="tk" text-anchor="end" transform="translate(261.5 2254.6) rotate(-90) scale(0.885 1)">0</text>
<text class="tk" text-anchor="end" transform="translate(607.6 2254.6) rotate(-90) scale(0.885 1)">10</text>
<text class="tk" text-anchor="end" transform="translate(953.7 2254.6) rotate(-90) scale(0.885 1)">20</text>
<text class="tk" text-anchor="end" transform="translate(1299.8 2254.6) rotate(-90) scale(0.885 1)">30</text>
<path d="M199.5 2227.6h-6.8M199.5 2143.9h-6.8M199.5 2060.2h-6.8M199.5 1976.5h-6.8M251.1 2243.2v6.9M597.2 2243.2v6.9M943.3 2243.2v6.9M1289.4 2243.2v6.9" stroke="#000" stroke-width="2" fill="none"/>
<text transform="translate(231.9 1947.7) scale(0.96 1)" style="font-style:italic;font-size:33.6px">TRB</text>
</g>
<text class="st" x="1378.8" y="1617.3">Sample</text>
<rect x="1380.35" y="1635.45" width="36.2" height="36.2" fill="#1b9e77" stroke="#000" stroke-width="2.1"/>
<text class="sl" x="1431.5" y="1662.2">Agonist_thymocytes_TRA</text>
<rect x="1380.35" y="1674.35" width="36.2" height="36.2" fill="#d95f02" stroke="#000" stroke-width="2.1"/>
<text class="sl" x="1431.5" y="1701.1">Early_thymocytes_TRA</text>
<rect x="1380.35" y="1713.25" width="36.2" height="36.2" fill="#7570b3" stroke="#000" stroke-width="2.1"/>
<text class="sl" x="1431.5" y="1740">Late_thymocytes_TRA</text>
<text class="st" x="1381.5" y="2016.3">Sample</text>
<rect x="1383.05" y="2034.05" width="36.2" height="36.2" fill="#1b9e77" stroke="#000" stroke-width="2.1"/>
<text class="sl" x="1434.2" y="2060.8">Agonist_thymocytes_TRB</text>
<rect x="1383.05" y="2072.95" width="36.2" height="36.2" fill="#d95f02" stroke="#000" stroke-width="2.1"/>
<text class="sl" x="1434.2" y="2099.7">Early_thymocytes_TRB</text>
<rect x="1383.05" y="2111.85" width="36.2" height="36.2" fill="#7570b3" stroke="#000" stroke-width="2.1"/>
<text class="sl" x="1434.2" y="2138.6">Late_thymocytes_TRB</text>
<text class="ax" text-anchor="middle" transform="translate(74.7 1865.7) rotate(-90) scale(0.967 1)">Unique CDR3aa sequences</text>
<text class="ax" text-anchor="middle" transform="translate(772.5 2331) scale(0.969 1)">CDR3aa length</text>
</svg></body></html>
